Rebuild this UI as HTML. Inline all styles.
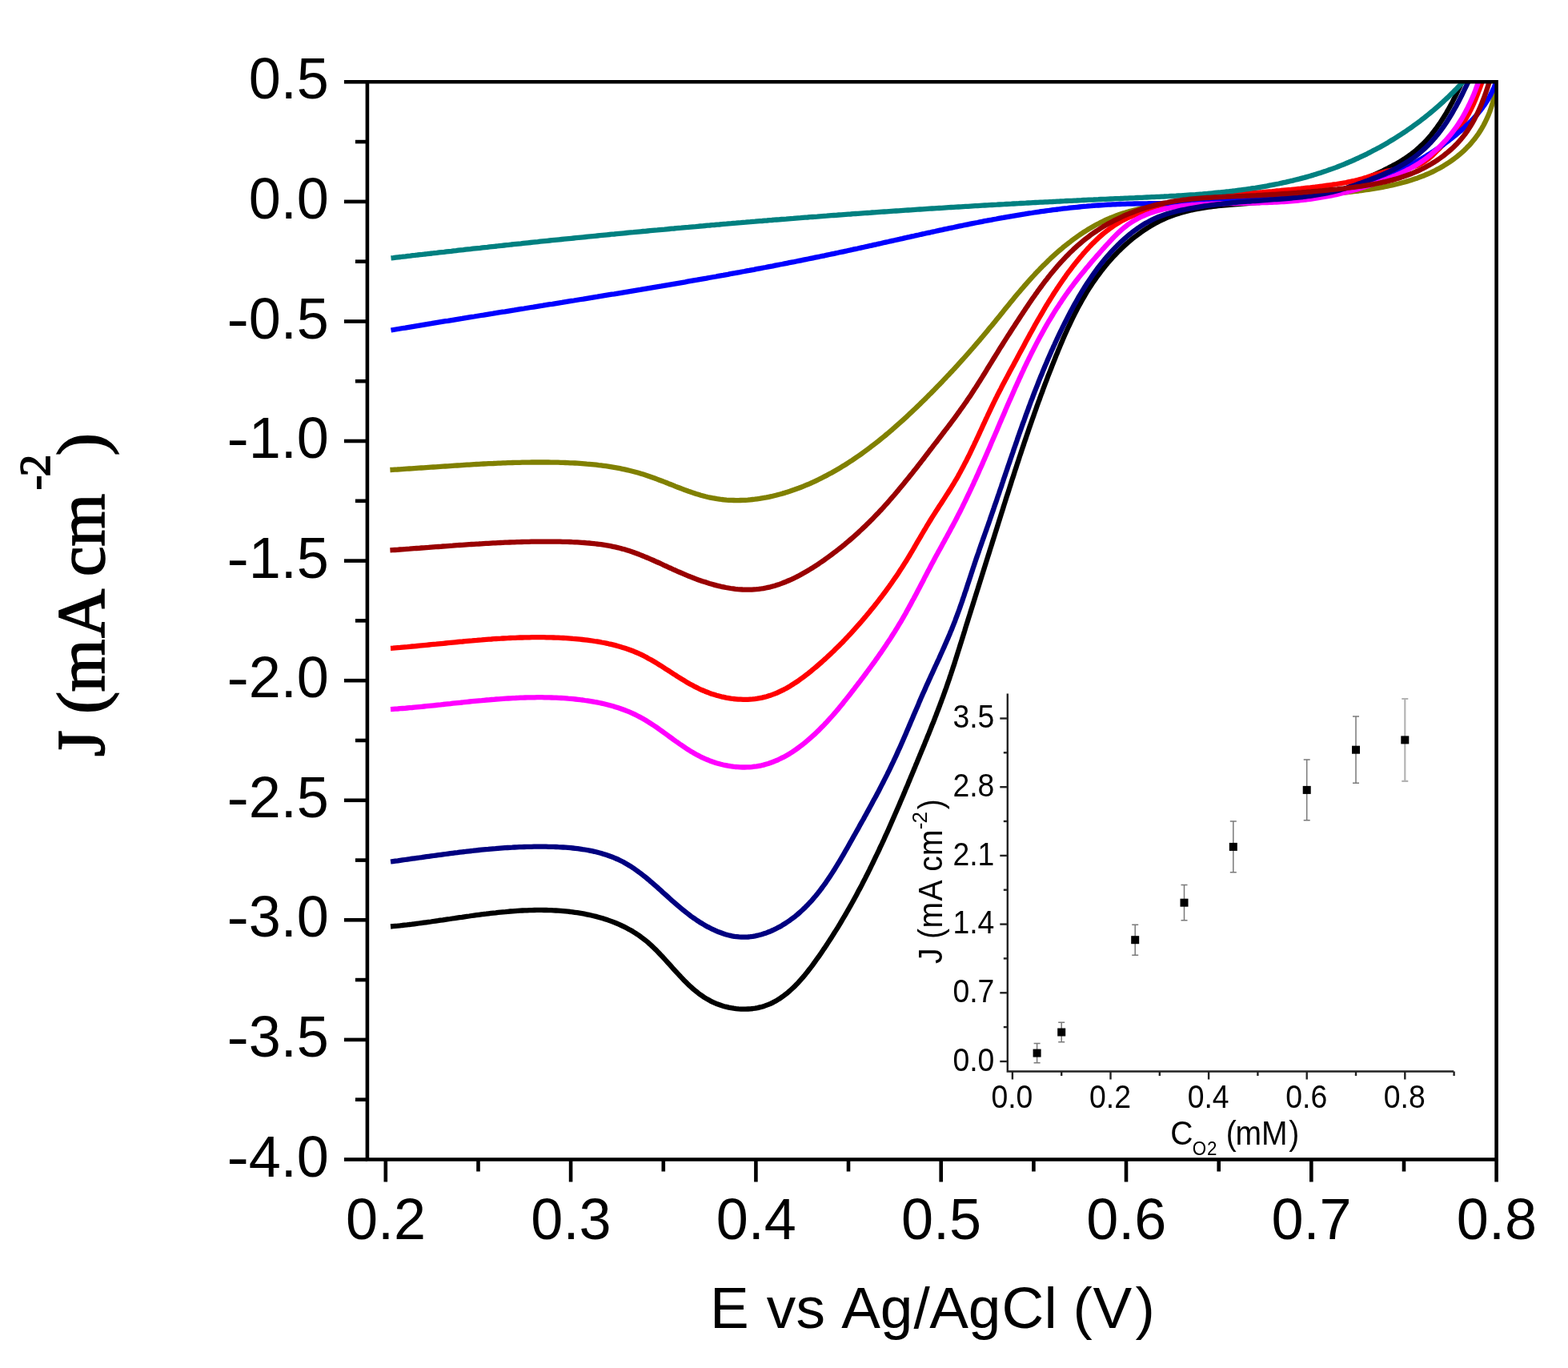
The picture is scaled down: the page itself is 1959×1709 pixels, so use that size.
<!DOCTYPE html><html><head><meta charset="utf-8"><title>LSV</title><style>
html,body{margin:0;padding:0;background:#fff;width:1959px;height:1709px;overflow:hidden}
svg{display:block}
.t{font-family:"Liberation Sans",Arial,sans-serif;fill:#000}
.s{font-family:"Liberation Serif","Times New Roman",serif;fill:#000;stroke:#000;stroke-width:1.6}
</style></head><body><div id="w">
<svg xmlns="http://www.w3.org/2000/svg" width="1959" height="1709" viewBox="0 0 1959 1709">
<rect width="1959" height="1709" fill="#fff"/>
<defs><clipPath id="pc"><rect x="458.9" y="102.3" width="1410.7" height="1346.2"/></clipPath></defs>
<g fill="none" stroke-width="6.3" stroke-linejoin="round" stroke-linecap="butt" clip-path="url(#pc)">
<path stroke="#000000" d="M488.0,1157.5 L490.9,1157.2 493.9,1156.9 496.8,1156.7 499.7,1156.4 502.7,1156.0 505.6,1155.7 508.5,1155.4 511.5,1155.0 514.5,1154.7 517.4,1154.3 520.4,1153.9 523.3,1153.5 526.3,1153.1 529.3,1152.7 532.3,1152.3 535.2,1151.9 538.2,1151.5 541.2,1151.0 544.2,1150.6 547.2,1150.2 550.2,1149.7 553.2,1149.3 556.2,1148.8 559.2,1148.4 562.2,1148.0 565.2,1147.5 568.2,1147.1 571.2,1146.6 574.2,1146.2 577.2,1145.8 580.2,1145.3 583.2,1144.9 586.2,1144.5 589.3,1144.0 592.3,1143.6 595.3,1143.2 598.3,1142.8 601.3,1142.4 604.3,1142.0 607.4,1141.7 610.4,1141.3 613.4,1140.9 616.4,1140.6 619.4,1140.3 622.5,1139.9 625.5,1139.6 628.5,1139.3 631.5,1139.1 634.5,1138.8 637.5,1138.5 640.6,1138.3 643.6,1138.1 646.6,1137.9 649.6,1137.7 652.6,1137.5 655.6,1137.4 658.6,1137.3 661.6,1137.1 664.6,1137.1 667.6,1137.0 670.6,1136.9 673.6,1136.9 676.6,1136.9 679.6,1137.0 682.6,1137.0 685.6,1137.1 688.6,1137.2 691.6,1137.3 694.5,1137.5 697.5,1137.7 700.5,1137.9 703.4,1138.1 706.4,1138.4 709.4,1138.7 712.3,1139.0 715.3,1139.4 718.2,1139.8 721.2,1140.2 724.1,1140.7 727.1,1141.2 730.0,1141.7 732.9,1142.3 735.8,1142.9 738.7,1143.5 741.6,1144.2 744.5,1144.9 747.4,1145.7 750.2,1146.5 753.1,1147.3 755.9,1148.2 758.7,1149.1 761.5,1150.1 764.3,1151.1 767.0,1152.2 769.8,1153.3 772.5,1154.4 775.2,1155.6 777.8,1156.9 780.5,1158.2 783.1,1159.5 785.7,1160.9 788.3,1162.3 790.8,1163.8 793.3,1165.4 795.8,1167.0 798.3,1168.7 800.7,1170.4 803.1,1172.2 805.4,1174.0 807.8,1175.9 810.1,1177.8 812.3,1179.8 814.5,1181.9 816.7,1184.0 818.9,1186.1 821.1,1188.3 823.2,1190.5 825.3,1192.7 827.5,1194.9 829.5,1197.2 831.6,1199.5 833.7,1201.8 835.8,1204.1 837.9,1206.4 839.9,1208.7 842.0,1211.1 844.1,1213.4 846.2,1215.7 848.3,1217.9 850.4,1220.2 852.5,1222.4 854.7,1224.7 856.8,1226.8 859.0,1229.0 861.2,1231.1 863.5,1233.1 865.7,1235.2 868.0,1237.1 870.4,1239.0 872.7,1240.9 875.1,1242.7 877.6,1244.4 880.1,1246.1 882.6,1247.6 885.2,1249.1 887.8,1250.6 890.5,1251.9 893.3,1253.1 896.1,1254.3 898.9,1255.3 901.8,1256.3 904.7,1257.2 907.7,1257.9 910.6,1258.6 913.6,1259.2 916.6,1259.7 919.7,1260.1 922.7,1260.4 925.7,1260.6 928.7,1260.7 931.7,1260.7 934.7,1260.5 937.7,1260.3 940.6,1260.0 943.5,1259.6 946.4,1259.1 949.2,1258.4 952.0,1257.7 954.7,1256.9 957.4,1255.9 960.1,1254.9 962.7,1253.8 965.2,1252.6 967.7,1251.3 970.2,1249.9 972.7,1248.4 975.1,1246.8 977.4,1245.2 979.7,1243.5 982.0,1241.7 984.3,1239.9 986.5,1238.0 988.7,1236.0 990.9,1234.0 993.0,1231.9 995.1,1229.8 997.2,1227.6 999.2,1225.4 1001.2,1223.2 1003.2,1220.9 1005.2,1218.5 1007.1,1216.1 1009.0,1213.7 1010.9,1211.3 1012.8,1208.9 1014.7,1206.4 1016.5,1203.9 1018.3,1201.4 1020.1,1198.8 1021.9,1196.3 1023.7,1193.8 1025.5,1191.2 1027.2,1188.7 1028.9,1186.1 1030.7,1183.6 1032.4,1181.0 1034.1,1178.4 1035.7,1175.9 1037.4,1173.3 1039.1,1170.7 1040.7,1168.1 1042.3,1165.5 1044.0,1162.9 1045.6,1160.4 1047.2,1157.8 1048.8,1155.2 1050.3,1152.6 1051.9,1149.9 1053.4,1147.3 1055.0,1144.7 1056.5,1142.1 1058.0,1139.5 1059.5,1136.9 1061.0,1134.2 1062.5,1131.6 1064.0,1129.0 1065.5,1126.3 1066.9,1123.7 1068.4,1121.0 1069.8,1118.4 1071.2,1115.7 1072.6,1113.1 1074.1,1110.4 1075.5,1107.8 1076.9,1105.1 1078.2,1102.4 1079.6,1099.8 1081.0,1097.1 1082.3,1094.4 1083.7,1091.8 1085.0,1089.1 1086.4,1086.4 1087.7,1083.7 1089.0,1081.0 1090.3,1078.3 1091.6,1075.6 1092.9,1072.9 1094.2,1070.2 1095.5,1067.5 1096.8,1064.8 1098.1,1062.1 1099.3,1059.4 1100.6,1056.7 1101.9,1054.0 1103.1,1051.3 1104.4,1048.6 1105.6,1045.8 1106.8,1043.1 1108.1,1040.4 1109.3,1037.7 1110.5,1034.9 1111.7,1032.2 1112.9,1029.5 1114.1,1026.7 1115.3,1024.0 1116.5,1021.2 1117.7,1018.5 1118.9,1015.8 1120.1,1013.0 1121.3,1010.3 1122.5,1007.5 1123.7,1004.8 1124.8,1002.0 1126.0,999.2 1127.2,996.5 1128.4,993.7 1129.5,991.0 1130.7,988.2 1131.8,985.4 1133.0,982.7 1134.2,979.9 1135.3,977.1 1136.5,974.4 1137.6,971.6 1138.8,968.8 1139.9,966.1 1141.1,963.3 1142.2,960.5 1143.4,957.7 1144.5,954.9 1145.7,952.2 1146.8,949.4 1148.0,946.6 1149.1,943.8 1150.3,941.0 1151.4,938.2 1152.6,935.4 1153.7,932.7 1154.9,929.9 1156.0,927.1 1157.2,924.3 1158.3,921.5 1159.4,918.7 1160.6,915.9 1161.7,913.1 1162.8,910.3 1163.9,907.5 1165.0,904.7 1166.2,901.9 1167.3,899.1 1168.4,896.2 1169.5,893.4 1170.5,890.6 1171.6,887.8 1172.7,885.0 1173.8,882.2 1174.8,879.3 1175.9,876.5 1176.9,873.7 1178.0,870.9 1179.0,868.0 1180.0,865.2 1181.0,862.4 1182.1,859.5 1183.0,856.7 1184.0,853.9 1185.0,851.0 1186.0,848.2 1186.9,845.3 1187.9,842.5 1188.8,839.6 1189.8,836.8 1190.7,833.9 1191.7,831.1 1192.6,828.2 1193.5,825.4 1194.4,822.5 1195.3,819.6 1196.2,816.8 1197.1,813.9 1198.0,811.1 1198.9,808.2 1199.8,805.3 1200.7,802.5 1201.6,799.6 1202.5,796.7 1203.4,793.9 1204.3,791.0 1205.2,788.1 1206.0,785.3 1206.9,782.4 1207.8,779.5 1208.7,776.7 1209.6,773.8 1210.5,770.9 1211.4,768.1 1212.3,765.2 1213.2,762.3 1214.1,759.5 1215.0,756.6 1215.9,753.7 1216.8,750.9 1217.7,748.0 1218.6,745.1 1219.5,742.3 1220.4,739.4 1221.3,736.6 1222.2,733.7 1223.1,730.8 1224.0,728.0 1224.9,725.1 1225.8,722.2 1226.7,719.4 1227.6,716.5 1228.5,713.6 1229.4,710.7 1230.3,707.9 1231.2,705.0 1232.1,702.1 1233.0,699.3 1233.9,696.4 1234.8,693.5 1235.7,690.7 1236.6,687.8 1237.5,684.9 1238.4,682.1 1239.3,679.2 1240.2,676.3 1241.1,673.5 1242.0,670.6 1242.9,667.7 1243.8,664.9 1244.7,662.0 1245.6,659.1 1246.5,656.2 1247.4,653.4 1248.3,650.5 1249.2,647.6 1250.1,644.8 1251.0,641.9 1251.9,639.0 1252.8,636.2 1253.7,633.3 1254.6,630.4 1255.5,627.6 1256.4,624.7 1257.3,621.8 1258.2,619.0 1259.2,616.1 1260.1,613.2 1261.0,610.4 1261.9,607.5 1262.8,604.7 1263.7,601.8 1264.6,598.9 1265.6,596.1 1266.5,593.2 1267.4,590.4 1268.3,587.5 1269.3,584.6 1270.2,581.8 1271.1,578.9 1272.1,576.1 1273.0,573.2 1273.9,570.4 1274.9,567.5 1275.8,564.7 1276.8,561.8 1277.7,559.0 1278.7,556.1 1279.6,553.3 1280.6,550.4 1281.6,547.6 1282.5,544.7 1283.5,541.9 1284.5,539.0 1285.4,536.2 1286.4,533.4 1287.4,530.5 1288.4,527.7 1289.4,524.8 1290.4,522.0 1291.4,519.2 1292.4,516.3 1293.4,513.5 1294.4,510.7 1295.4,507.8 1296.4,505.0 1297.4,502.2 1298.5,499.4 1299.5,496.5 1300.5,493.7 1301.6,490.9 1302.6,488.1 1303.6,485.3 1304.7,482.4 1305.7,479.6 1306.8,476.8 1307.9,474.0 1308.9,471.2 1310.0,468.4 1311.1,465.6 1312.2,462.8 1313.3,460.0 1314.4,457.2 1315.5,454.4 1316.6,451.6 1317.7,448.8 1318.8,446.0 1319.9,443.2 1321.1,440.4 1322.2,437.6 1323.4,434.8 1324.5,432.1 1325.7,429.3 1326.9,426.5 1328.0,423.8 1329.2,421.0 1330.4,418.3 1331.7,415.5 1332.9,412.8 1334.1,410.0 1335.4,407.3 1336.7,404.6 1338.0,401.9 1339.3,399.2 1340.6,396.5 1341.9,393.8 1343.3,391.1 1344.6,388.5 1346.0,385.8 1347.4,383.1 1348.9,380.5 1350.3,377.9 1351.8,375.3 1353.3,372.7 1354.8,370.1 1356.3,367.5 1357.8,364.9 1359.4,362.4 1361.0,359.9 1362.7,357.3 1364.3,354.8 1366.0,352.3 1367.7,349.9 1369.4,347.4 1371.2,344.9 1373.0,342.5 1374.8,340.1 1376.6,337.7 1378.5,335.3 1380.4,333.0 1382.3,330.6 1384.3,328.3 1386.3,326.0 1388.3,323.7 1390.3,321.5 1392.4,319.2 1394.5,317.0 1396.6,314.8 1398.8,312.7 1401.0,310.5 1403.2,308.4 1405.4,306.4 1407.7,304.3 1410.0,302.3 1412.3,300.4 1414.6,298.4 1417.0,296.5 1419.4,294.7 1421.8,292.9 1424.3,291.1 1426.7,289.3 1429.2,287.6 1431.7,286.0 1434.3,284.4 1436.8,282.8 1439.4,281.3 1442.0,279.8 1444.6,278.3 1447.3,277.0 1449.9,275.6 1452.6,274.4 1455.3,273.1 1458.0,271.9 1460.8,270.8 1463.5,269.8 1466.3,268.7 1469.1,267.8 1471.9,266.9 1474.8,266.0 1477.6,265.2 1480.5,264.4 1483.4,263.7 1486.3,263.0 1489.2,262.3 1492.1,261.7 1495.0,261.1 1498.0,260.6 1500.9,260.1 1503.9,259.6 1506.9,259.1 1509.8,258.7 1512.8,258.3 1515.8,257.9 1518.8,257.6 1521.8,257.2 1524.8,256.9 1527.8,256.6 1530.9,256.3 1533.9,256.0 1536.9,255.8 1539.9,255.5 1543.0,255.3 1546.0,255.0 1549.0,254.8 1552.0,254.6 1555.0,254.4 1558.1,254.1 1561.1,253.9 1564.1,253.7 1567.1,253.4 1570.1,253.2 1573.1,253.0 1576.1,252.7 1579.1,252.5 1582.0,252.2 1585.0,252.0 1588.0,251.7 1591.0,251.4 1594.0,251.2 1597.0,250.9 1599.9,250.6 1602.9,250.3 1605.9,250.0 1608.9,249.7 1611.9,249.4 1614.8,249.1 1617.8,248.8 1620.8,248.4 1623.8,248.1 1626.7,247.8 1629.7,247.4 1632.7,247.1 1635.7,246.7 1638.7,246.3 1641.7,245.9 1644.7,245.5 1647.7,245.1 1650.6,244.7 1653.6,244.2 1656.6,243.6 1659.5,243.0 1662.4,242.4 1665.3,241.6 1668.2,240.8 1671.0,239.9 1673.8,238.9 1676.6,237.8 1679.4,236.6 1682.1,235.3 1684.8,234.1 1687.5,232.7 1690.2,231.4 1692.9,230.0 1695.6,228.6 1698.3,227.3 1701.0,225.9 1703.7,224.6 1706.4,223.3 1709.1,222.0 1711.9,220.7 1714.6,219.4 1717.4,218.1 1720.1,216.8 1722.8,215.6 1725.6,214.3 1728.3,213.0 1731.0,211.6 1733.7,210.3 1736.4,208.9 1739.0,207.6 1741.7,206.1 1744.3,204.7 1746.9,203.2 1749.5,201.7 1752.0,200.1 1754.5,198.5 1757.0,196.8 1759.5,195.1 1761.9,193.4 1764.3,191.6 1766.7,189.8 1769.0,187.9 1771.2,185.9 1773.5,183.9 1775.6,181.9 1777.8,179.8 1779.9,177.7 1781.9,175.5 1783.9,173.3 1785.9,171.0 1787.9,168.7 1789.8,166.3 1791.6,164.0 1793.5,161.5 1795.3,159.1 1797.0,156.6 1798.8,154.1 1800.4,151.6 1802.1,149.0 1803.7,146.5 1805.3,143.9 1806.9,141.3 1808.4,138.6 1809.9,136.0 1811.4,133.3 1812.8,130.6 1814.3,128.0 1815.6,125.3 1817.0,122.6 1818.4,119.9 1819.7,117.2 1821.0,114.5 1822.2,111.8 1823.5,109.1 1824.7,106.4 1825.9,103.7 1827.0,101.0"/>
<path stroke="#808000" d="M487.4,587.0 L490.4,586.8 493.4,586.6 496.4,586.5 499.3,586.3 502.3,586.1 505.3,585.9 508.3,585.7 511.3,585.5 514.3,585.3 517.3,585.1 520.3,584.9 523.3,584.7 526.3,584.5 529.3,584.3 532.3,584.1 535.3,583.9 538.3,583.7 541.3,583.5 544.3,583.3 547.3,583.1 550.3,582.9 553.3,582.7 556.3,582.5 559.3,582.3 562.3,582.1 565.3,581.9 568.3,581.7 571.3,581.5 574.3,581.3 577.3,581.1 580.3,580.9 583.3,580.7 586.3,580.6 589.3,580.4 592.3,580.2 595.3,580.0 598.3,579.9 601.3,579.7 604.3,579.5 607.3,579.4 610.3,579.2 613.3,579.1 616.3,579.0 619.3,578.8 622.3,578.7 625.3,578.6 628.4,578.4 631.4,578.3 634.4,578.2 637.4,578.1 640.4,578.0 643.4,577.9 646.4,577.9 649.4,577.8 652.4,577.7 655.4,577.7 658.4,577.6 661.4,577.6 664.4,577.5 667.4,577.5 670.4,577.5 673.4,577.5 676.4,577.5 679.4,577.5 682.4,577.5 685.3,577.5 688.3,577.6 691.3,577.6 694.3,577.7 697.3,577.7 700.3,577.8 703.3,577.9 706.3,578.0 709.3,578.1 712.3,578.3 715.2,578.4 718.2,578.5 721.2,578.7 724.2,578.9 727.2,579.1 730.1,579.3 733.1,579.6 736.1,579.8 739.0,580.1 742.0,580.4 745.0,580.7 747.9,581.1 750.9,581.4 753.9,581.8 756.8,582.2 759.8,582.6 762.7,583.1 765.7,583.6 768.6,584.1 771.5,584.6 774.5,585.2 777.4,585.8 780.3,586.4 783.3,587.1 786.2,587.8 789.1,588.5 792.0,589.2 794.9,590.0 797.8,590.8 800.8,591.7 803.7,592.6 806.5,593.5 809.4,594.5 812.3,595.5 815.2,596.5 818.1,597.5 821.0,598.6 823.8,599.7 826.7,600.8 829.6,601.9 832.5,603.0 835.3,604.2 838.2,605.3 841.1,606.4 843.9,607.6 846.8,608.7 849.7,609.8 852.5,610.9 855.4,612.0 858.3,613.0 861.1,614.1 864.0,615.1 866.9,616.0 869.8,617.0 872.7,617.8 875.6,618.7 878.5,619.5 881.4,620.3 884.3,621.0 887.2,621.6 890.1,622.2 893.0,622.7 895.9,623.2 898.9,623.6 901.8,624.0 904.7,624.3 907.7,624.6 910.6,624.8 913.5,624.9 916.5,625.0 919.4,625.1 922.4,625.1 925.3,625.0 928.3,624.9 931.2,624.8 934.2,624.6 937.1,624.3 940.1,624.0 943.0,623.7 945.9,623.3 948.9,622.9 951.8,622.4 954.7,621.9 957.7,621.4 960.6,620.8 963.5,620.2 966.4,619.5 969.3,618.8 972.2,618.0 975.1,617.3 978.0,616.4 980.9,615.6 983.7,614.7 986.6,613.8 989.4,612.8 992.3,611.8 995.1,610.8 997.9,609.8 1000.7,608.7 1003.5,607.6 1006.3,606.4 1009.1,605.3 1011.9,604.1 1014.6,602.8 1017.4,601.6 1020.1,600.3 1022.8,599.0 1025.5,597.7 1028.2,596.3 1030.9,594.9 1033.5,593.6 1036.2,592.1 1038.8,590.7 1041.4,589.2 1044.0,587.7 1046.6,586.2 1049.2,584.7 1051.8,583.1 1054.4,581.6 1056.9,580.0 1059.4,578.4 1062.0,576.7 1064.5,575.1 1067.0,573.4 1069.5,571.7 1071.9,570.0 1074.4,568.3 1076.8,566.6 1079.3,564.8 1081.7,563.0 1084.1,561.3 1086.5,559.4 1088.9,557.6 1091.3,555.8 1093.7,553.9 1096.1,552.1 1098.4,550.2 1100.8,548.3 1103.1,546.4 1105.5,544.5 1107.8,542.5 1110.1,540.6 1112.4,538.6 1114.7,536.7 1117.0,534.7 1119.2,532.7 1121.5,530.7 1123.8,528.7 1126.0,526.7 1128.3,524.6 1130.5,522.6 1132.7,520.6 1134.9,518.5 1137.1,516.4 1139.3,514.4 1141.5,512.3 1143.7,510.2 1145.9,508.1 1148.1,506.0 1150.2,503.9 1152.4,501.8 1154.5,499.7 1156.7,497.6 1158.8,495.4 1160.9,493.3 1163.1,491.2 1165.2,489.0 1167.3,486.9 1169.4,484.7 1171.5,482.6 1173.6,480.4 1175.7,478.3 1177.7,476.1 1179.8,473.9 1181.9,471.7 1183.9,469.5 1186.0,467.4 1188.0,465.2 1190.1,463.0 1192.1,460.8 1194.1,458.6 1196.2,456.3 1198.2,454.1 1200.2,451.9 1202.2,449.7 1204.2,447.5 1206.2,445.2 1208.2,443.0 1210.2,440.7 1212.1,438.5 1214.1,436.2 1216.1,434.0 1218.0,431.7 1220.0,429.4 1221.9,427.2 1223.9,424.9 1225.8,422.6 1227.8,420.3 1229.7,418.0 1231.6,415.7 1233.5,413.4 1235.4,411.1 1237.3,408.8 1239.3,406.5 1241.1,404.2 1243.0,401.9 1244.9,399.5 1246.8,397.2 1248.7,394.9 1250.6,392.5 1252.5,390.2 1254.3,387.9 1256.2,385.5 1258.1,383.2 1260.0,380.9 1261.9,378.6 1263.8,376.2 1265.7,373.9 1267.6,371.6 1269.5,369.3 1271.4,367.0 1273.4,364.7 1275.3,362.4 1277.3,360.2 1279.2,357.9 1281.2,355.6 1283.2,353.4 1285.2,351.2 1287.2,348.9 1289.2,346.7 1291.2,344.5 1293.2,342.3 1295.3,340.1 1297.4,338.0 1299.4,335.8 1301.5,333.7 1303.6,331.6 1305.8,329.5 1307.9,327.4 1310.0,325.3 1312.2,323.2 1314.4,321.2 1316.6,319.2 1318.8,317.2 1321.1,315.2 1323.3,313.2 1325.6,311.3 1327.9,309.3 1330.2,307.4 1332.6,305.6 1334.9,303.7 1337.3,301.9 1339.7,300.0 1342.1,298.3 1344.6,296.5 1347.0,294.8 1349.5,293.0 1352.0,291.4 1354.5,289.7 1357.1,288.1 1359.6,286.5 1362.2,285.0 1364.8,283.5 1367.4,282.0 1370.0,280.6 1372.7,279.2 1375.3,277.8 1378.0,276.5 1380.7,275.2 1383.4,274.0 1386.1,272.8 1388.9,271.7 1391.6,270.6 1394.4,269.5 1397.1,268.5 1399.9,267.5 1402.7,266.6 1405.6,265.7 1408.4,264.9 1411.2,264.0 1414.1,263.3 1416.9,262.5 1419.8,261.8 1422.6,261.1 1425.5,260.4 1428.4,259.8 1431.3,259.2 1434.2,258.6 1437.1,258.0 1440.1,257.5 1443.0,257.0 1445.9,256.5 1448.9,256.0 1451.8,255.6 1454.7,255.1 1457.7,254.7 1460.6,254.3 1463.6,253.9 1466.6,253.6 1469.5,253.2 1472.5,252.9 1475.5,252.6 1478.5,252.3 1481.5,252.0 1484.5,251.7 1487.4,251.5 1490.4,251.2 1493.4,251.0 1496.4,250.8 1499.4,250.6 1502.4,250.4 1505.5,250.2 1508.5,250.0 1511.5,249.8 1514.5,249.7 1517.5,249.5 1520.5,249.4 1523.5,249.2 1526.5,249.1 1529.6,249.0 1532.6,248.8 1535.6,248.7 1538.6,248.6 1541.6,248.5 1544.6,248.4 1547.7,248.3 1550.7,248.2 1553.7,248.1 1556.7,248.0 1559.7,247.9 1562.7,247.8 1565.7,247.7 1568.7,247.5 1571.8,247.4 1574.8,247.3 1577.8,247.2 1580.8,247.1 1583.8,247.0 1586.8,246.9 1589.8,246.7 1592.8,246.6 1595.8,246.5 1598.8,246.4 1601.8,246.2 1604.8,246.1 1607.7,246.0 1610.7,245.8 1613.7,245.7 1616.7,245.5 1619.7,245.3 1622.7,245.2 1625.7,245.0 1628.7,244.8 1631.7,244.6 1634.7,244.4 1637.7,244.2 1640.7,244.0 1643.6,243.8 1646.6,243.6 1649.6,243.4 1652.6,243.1 1655.6,242.9 1658.6,242.6 1661.6,242.4 1664.6,242.1 1667.6,241.8 1670.5,241.5 1673.5,241.2 1676.5,240.9 1679.5,240.6 1682.5,240.3 1685.5,239.9 1688.5,239.6 1691.5,239.2 1694.5,238.8 1697.5,238.5 1700.5,238.1 1703.5,237.6 1706.5,237.2 1709.4,236.8 1712.4,236.3 1715.4,235.9 1718.4,235.4 1721.4,234.9 1724.4,234.3 1727.4,233.8 1730.3,233.2 1733.3,232.6 1736.3,232.0 1739.2,231.4 1742.1,230.7 1745.1,230.0 1748.0,229.3 1750.9,228.5 1753.8,227.8 1756.7,226.9 1759.6,226.1 1762.5,225.2 1765.3,224.3 1768.2,223.3 1771.0,222.4 1773.8,221.3 1776.6,220.3 1779.4,219.2 1782.1,218.0 1784.9,216.8 1787.6,215.6 1790.3,214.3 1793.0,213.0 1795.6,211.6 1798.3,210.2 1800.9,208.7 1803.5,207.2 1806.0,205.6 1808.6,204.0 1811.1,202.3 1813.6,200.6 1816.0,198.9 1818.4,197.1 1820.8,195.2 1823.1,193.3 1825.4,191.3 1827.7,189.3 1829.9,187.3 1832.0,185.2 1834.1,183.0 1836.2,180.9 1838.2,178.6 1840.1,176.3 1842.0,174.0 1843.8,171.6 1845.6,169.2 1847.3,166.7 1848.9,164.2 1850.5,161.7 1852.0,159.1 1853.5,156.5 1854.9,153.8 1856.2,151.1 1857.5,148.4 1858.7,145.7 1859.9,142.9 1861.0,140.1 1862.0,137.2 1863.0,134.4 1863.9,131.5 1864.8,128.6 1865.6,125.7 1866.4,122.8 1867.1,119.8 1867.8,116.9 1868.4,113.9 1868.9,110.9 1869.4,108.0"/>
<path stroke="#ff0000" d="M488.0,809.8 L491.0,809.6 494.0,809.3 497.0,809.1 500.0,808.9 503.0,808.6 506.0,808.3 509.0,808.1 512.0,807.8 515.0,807.5 518.0,807.3 521.0,807.0 524.0,806.7 527.0,806.4 530.0,806.1 532.9,805.8 535.9,805.5 538.9,805.2 541.9,804.9 544.9,804.7 547.9,804.4 550.9,804.1 553.9,803.8 556.9,803.5 559.9,803.2 562.9,802.9 565.8,802.6 568.8,802.3 571.8,802.0 574.8,801.7 577.8,801.5 580.8,801.2 583.8,800.9 586.8,800.6 589.8,800.4 592.8,800.1 595.7,799.9 598.7,799.6 601.7,799.4 604.7,799.1 607.7,798.9 610.7,798.7 613.7,798.5 616.7,798.2 619.7,798.0 622.7,797.8 625.7,797.7 628.6,797.5 631.6,797.3 634.6,797.2 637.6,797.0 640.6,796.9 643.6,796.8 646.6,796.6 649.6,796.5 652.6,796.5 655.6,796.4 658.6,796.3 661.6,796.3 664.6,796.2 667.6,796.2 670.6,796.2 673.6,796.2 676.6,796.2 679.6,796.2 682.6,796.3 685.6,796.3 688.6,796.4 691.6,796.5 694.6,796.6 697.6,796.7 700.6,796.9 703.6,797.0 706.6,797.2 709.7,797.4 712.7,797.6 715.7,797.9 718.7,798.1 721.7,798.4 724.7,798.7 727.7,799.0 730.7,799.3 733.8,799.7 736.8,800.1 739.8,800.5 742.8,801.0 745.8,801.4 748.7,801.9 751.7,802.5 754.7,803.0 757.6,803.6 760.6,804.3 763.5,804.9 766.5,805.6 769.4,806.4 772.3,807.2 775.1,808.0 778.0,808.9 780.9,809.8 783.7,810.7 786.5,811.7 789.3,812.8 792.0,813.8 794.8,815.0 797.5,816.2 800.2,817.4 802.9,818.7 805.5,820.0 808.2,821.4 810.8,822.9 813.4,824.3 815.9,825.8 818.5,827.3 821.1,828.9 823.6,830.5 826.2,832.0 828.7,833.7 831.2,835.3 833.7,836.9 836.3,838.5 838.8,840.2 841.3,841.8 843.9,843.4 846.4,845.1 848.9,846.7 851.5,848.3 854.1,849.8 856.7,851.4 859.3,852.9 861.9,854.4 864.5,855.8 867.2,857.3 869.9,858.6 872.6,860.0 875.3,861.3 878.1,862.5 880.9,863.7 883.7,864.8 886.6,865.9 889.5,866.9 892.4,867.8 895.3,868.7 898.3,869.5 901.2,870.3 904.2,870.9 907.2,871.6 910.2,872.1 913.2,872.6 916.2,873.0 919.3,873.3 922.3,873.6 925.3,873.7 928.3,873.8 931.3,873.8 934.3,873.8 937.3,873.6 940.3,873.4 943.2,873.1 946.2,872.7 949.1,872.2 952.0,871.6 954.9,870.9 957.7,870.2 960.5,869.3 963.3,868.4 966.1,867.4 968.8,866.3 971.6,865.2 974.3,863.9 976.9,862.6 979.6,861.3 982.2,859.9 984.8,858.4 987.4,856.9 990.0,855.3 992.5,853.7 995.1,852.0 997.6,850.3 1000.0,848.5 1002.5,846.7 1004.9,844.9 1007.4,843.0 1009.8,841.2 1012.2,839.3 1014.5,837.3 1016.9,835.4 1019.2,833.5 1021.5,831.5 1023.8,829.5 1026.1,827.5 1028.3,825.5 1030.6,823.5 1032.8,821.5 1035.0,819.4 1037.2,817.4 1039.4,815.3 1041.6,813.2 1043.7,811.1 1045.8,809.0 1048.0,806.9 1050.1,804.8 1052.2,802.7 1054.3,800.5 1056.3,798.3 1058.4,796.2 1060.4,794.0 1062.5,791.8 1064.5,789.6 1066.5,787.4 1068.5,785.2 1070.5,782.9 1072.5,780.7 1074.5,778.4 1076.4,776.2 1078.4,773.9 1080.3,771.6 1082.3,769.3 1084.2,767.0 1086.1,764.7 1088.0,762.3 1089.9,760.0 1091.8,757.7 1093.7,755.3 1095.6,752.9 1097.4,750.6 1099.2,748.2 1101.1,745.8 1102.9,743.4 1104.7,741.0 1106.5,738.6 1108.3,736.1 1110.1,733.7 1111.8,731.2 1113.6,728.8 1115.3,726.3 1117.0,723.8 1118.7,721.4 1120.4,718.9 1122.1,716.4 1123.8,713.8 1125.4,711.3 1127.1,708.8 1128.7,706.3 1130.3,703.7 1131.9,701.2 1133.5,698.6 1135.0,696.1 1136.6,693.5 1138.1,690.9 1139.7,688.3 1141.2,685.7 1142.7,683.1 1144.2,680.5 1145.7,677.9 1147.2,675.3 1148.8,672.7 1150.3,670.1 1151.8,667.5 1153.3,665.0 1154.8,662.4 1156.4,659.8 1157.9,657.2 1159.5,654.6 1161.0,652.1 1162.6,649.5 1164.2,646.9 1165.8,644.4 1167.4,641.9 1169.0,639.3 1170.7,636.8 1172.3,634.3 1173.9,631.7 1175.6,629.2 1177.2,626.7 1178.9,624.1 1180.5,621.6 1182.1,619.1 1183.8,616.6 1185.4,614.0 1187.0,611.5 1188.6,608.9 1190.1,606.4 1191.7,603.8 1193.2,601.2 1194.8,598.6 1196.3,596.0 1197.7,593.4 1199.2,590.8 1200.6,588.1 1202.0,585.5 1203.5,582.8 1204.8,580.2 1206.2,577.5 1207.6,574.9 1208.9,572.2 1210.3,569.5 1211.6,566.8 1212.9,564.1 1214.2,561.4 1215.5,558.7 1216.8,556.0 1218.1,553.2 1219.4,550.5 1220.6,547.8 1221.9,545.1 1223.2,542.3 1224.4,539.6 1225.7,536.9 1226.9,534.2 1228.2,531.4 1229.5,528.7 1230.7,526.0 1232.0,523.2 1233.3,520.5 1234.5,517.8 1235.8,515.1 1237.1,512.3 1238.4,509.6 1239.7,506.9 1241.0,504.2 1242.3,501.5 1243.6,498.8 1245.0,496.1 1246.3,493.4 1247.7,490.7 1249.1,488.0 1250.5,485.4 1251.8,482.7 1253.2,480.0 1254.6,477.4 1256.0,474.7 1257.5,472.1 1258.9,469.4 1260.3,466.7 1261.7,464.1 1263.1,461.5 1264.6,458.8 1266.0,456.2 1267.4,453.5 1268.8,450.9 1270.3,448.2 1271.7,445.6 1273.1,442.9 1274.5,440.3 1275.9,437.7 1277.4,435.0 1278.8,432.4 1280.2,429.7 1281.6,427.1 1283.0,424.5 1284.5,421.9 1285.9,419.2 1287.3,416.6 1288.8,414.0 1290.2,411.4 1291.7,408.7 1293.1,406.1 1294.6,403.5 1296.1,400.9 1297.6,398.3 1299.1,395.7 1300.6,393.1 1302.1,390.6 1303.6,388.0 1305.1,385.4 1306.6,382.8 1308.2,380.3 1309.7,377.7 1311.3,375.2 1312.9,372.6 1314.5,370.1 1316.1,367.5 1317.7,365.0 1319.4,362.5 1321.0,360.0 1322.7,357.5 1324.4,355.0 1326.1,352.5 1327.8,350.0 1329.5,347.6 1331.3,345.1 1333.0,342.6 1334.8,340.2 1336.6,337.8 1338.5,335.3 1340.3,332.9 1342.2,330.5 1344.1,328.1 1346.0,325.7 1348.0,323.4 1349.9,321.0 1351.9,318.7 1353.9,316.3 1356.0,314.0 1358.0,311.7 1360.1,309.5 1362.2,307.2 1364.3,305.0 1366.5,302.9 1368.7,300.7 1370.9,298.6 1373.1,296.5 1375.4,294.5 1377.7,292.5 1380.0,290.6 1382.4,288.7 1384.8,286.9 1387.2,285.1 1389.6,283.4 1392.1,281.7 1394.6,280.1 1397.1,278.5 1399.6,277.0 1402.2,275.6 1404.9,274.2 1407.5,272.9 1410.2,271.7 1412.9,270.5 1415.6,269.4 1418.3,268.3 1421.1,267.3 1423.9,266.3 1426.7,265.4 1429.5,264.4 1432.4,263.6 1435.2,262.7 1438.1,261.9 1440.9,261.1 1443.8,260.3 1446.7,259.6 1449.5,258.8 1452.4,258.1 1455.3,257.4 1458.2,256.7 1461.2,256.1 1464.1,255.4 1467.0,254.8 1469.9,254.2 1472.9,253.6 1475.8,253.0 1478.7,252.5 1481.7,251.9 1484.6,251.4 1487.6,250.9 1490.5,250.4 1493.5,249.9 1496.5,249.4 1499.4,249.0 1502.4,248.5 1505.4,248.1 1508.4,247.7 1511.4,247.2 1514.4,246.8 1517.3,246.4 1520.3,246.1 1523.3,245.7 1526.3,245.3 1529.3,245.0 1532.3,244.6 1535.3,244.3 1538.3,244.0 1541.3,243.6 1544.3,243.3 1547.3,243.0 1550.3,242.7 1553.3,242.4 1556.3,242.1 1559.3,241.8 1562.3,241.5 1565.3,241.2 1568.3,241.0 1571.3,240.7 1574.3,240.4 1577.3,240.2 1580.3,239.9 1583.3,239.6 1586.3,239.3 1589.3,239.1 1592.3,238.8 1595.2,238.5 1598.2,238.3 1601.2,238.0 1604.2,237.7 1607.2,237.4 1610.2,237.1 1613.2,236.9 1616.2,236.6 1619.1,236.3 1622.1,236.0 1625.1,235.7 1628.1,235.3 1631.1,235.0 1634.1,234.7 1637.0,234.4 1640.0,234.0 1643.0,233.7 1646.0,233.3 1649.0,232.9 1651.9,232.5 1654.9,232.1 1657.9,231.7 1660.9,231.3 1663.9,230.9 1666.8,230.4 1669.8,230.0 1672.8,229.5 1675.7,229.0 1678.7,228.5 1681.7,228.0 1684.6,227.4 1687.6,226.8 1690.5,226.2 1693.5,225.5 1696.4,224.8 1699.3,224.0 1702.2,223.2 1705.1,222.3 1707.9,221.5 1710.8,220.5 1713.7,219.6 1716.5,218.7 1719.4,217.8 1722.3,216.9 1725.2,216.0 1728.0,215.2 1731.0,214.4 1733.9,213.6 1736.8,213.0 1739.8,212.4 1742.8,211.9 1745.8,211.4 1748.8,211.0 1751.9,210.6 1754.9,210.2 1757.9,209.8 1760.8,209.3 1763.7,208.7 1766.6,208.0 1769.4,207.2 1772.1,206.2 1774.7,205.0 1777.3,203.6 1779.7,202.0 1782.1,200.3 1784.5,198.5 1786.8,196.6 1789.1,194.6 1791.3,192.5 1793.5,190.3 1795.7,188.1 1797.9,185.9 1800.0,183.8 1802.2,181.6 1804.4,179.5 1806.6,177.4 1808.8,175.3 1810.9,173.3 1813.1,171.2 1815.2,169.1 1817.3,167.0 1819.3,164.8 1821.2,162.6 1823.1,160.3 1824.9,157.9 1826.7,155.5 1828.4,153.0 1830.0,150.5 1831.6,148.0 1833.1,145.3 1834.6,142.7 1836.0,140.0 1837.4,137.3 1838.7,134.6 1840.0,131.8 1841.3,129.1 1842.5,126.3 1843.7,123.5 1844.8,120.7 1845.9,117.9 1847.0,115.0 1848.1,112.2 1849.1,109.4 1850.1,106.6 1851.1,103.8 1852.0,101.0"/>
<path stroke="#0000ff" d="M488.5,412.5 L491.5,412.0 494.4,411.5 497.4,411.0 500.3,410.5 503.3,410.0 506.3,409.6 509.2,409.1 512.2,408.6 515.2,408.1 518.1,407.6 521.1,407.1 524.1,406.6 527.0,406.1 530.0,405.6 533.0,405.1 535.9,404.6 538.9,404.2 541.8,403.7 544.8,403.2 547.8,402.7 550.7,402.2 553.7,401.7 556.7,401.2 559.6,400.8 562.6,400.3 565.6,399.8 568.5,399.3 571.5,398.8 574.5,398.3 577.4,397.9 580.4,397.4 583.4,396.9 586.3,396.4 589.3,395.9 592.3,395.5 595.2,395.0 598.2,394.5 601.2,394.0 604.1,393.6 607.1,393.1 610.1,392.6 613.0,392.1 616.0,391.7 619.0,391.2 621.9,390.7 624.9,390.2 627.9,389.7 630.8,389.3 633.8,388.8 636.8,388.3 639.7,387.8 642.7,387.4 645.7,386.9 648.6,386.4 651.6,385.9 654.6,385.5 657.5,385.0 660.5,384.5 663.5,384.0 666.4,383.6 669.4,383.1 672.4,382.6 675.3,382.1 678.3,381.7 681.3,381.2 684.2,380.7 687.2,380.2 690.2,379.8 693.1,379.3 696.1,378.8 699.1,378.3 702.0,377.9 705.0,377.4 708.0,376.9 710.9,376.4 713.9,375.9 716.9,375.5 719.8,375.0 722.8,374.5 725.8,374.0 728.7,373.6 731.7,373.1 734.7,372.6 737.6,372.1 740.6,371.6 743.6,371.1 746.5,370.7 749.5,370.2 752.5,369.7 755.4,369.2 758.4,368.7 761.3,368.2 764.3,367.7 767.3,367.3 770.2,366.8 773.2,366.3 776.2,365.8 779.1,365.3 782.1,364.8 785.1,364.3 788.0,363.8 791.0,363.3 793.9,362.8 796.9,362.3 799.9,361.9 802.8,361.4 805.8,360.9 808.8,360.4 811.7,359.9 814.7,359.4 817.6,358.9 820.6,358.4 823.6,357.9 826.5,357.4 829.5,356.8 832.5,356.3 835.4,355.8 838.4,355.3 841.3,354.8 844.3,354.3 847.3,353.8 850.2,353.3 853.2,352.8 856.1,352.3 859.1,351.7 862.1,351.2 865.0,350.7 868.0,350.2 870.9,349.7 873.9,349.1 876.8,348.6 879.8,348.1 882.8,347.6 885.7,347.0 888.7,346.5 891.6,346.0 894.6,345.5 897.5,344.9 900.5,344.4 903.5,343.9 906.4,343.3 909.4,342.8 912.3,342.2 915.3,341.7 918.2,341.2 921.2,340.6 924.1,340.1 927.1,339.5 930.0,339.0 933.0,338.4 936.0,337.9 938.9,337.3 941.9,336.8 944.8,336.2 947.8,335.6 950.7,335.1 953.7,334.5 956.6,334.0 959.6,333.4 962.5,332.8 965.5,332.3 968.4,331.7 971.4,331.1 974.3,330.5 977.3,330.0 980.2,329.4 983.2,328.8 986.1,328.2 989.1,327.6 992.0,327.1 995.0,326.5 997.9,325.9 1000.8,325.3 1003.8,324.7 1006.7,324.1 1009.7,323.5 1012.6,322.9 1015.6,322.3 1018.5,321.7 1021.5,321.1 1024.4,320.5 1027.3,319.9 1030.3,319.3 1033.2,318.6 1036.2,318.0 1039.1,317.4 1042.1,316.8 1045.0,316.2 1047.9,315.5 1050.9,314.9 1053.8,314.3 1056.8,313.7 1059.7,313.0 1062.6,312.4 1065.6,311.7 1068.5,311.1 1071.4,310.5 1074.4,309.8 1077.3,309.2 1080.3,308.5 1083.2,307.9 1086.1,307.2 1089.1,306.6 1092.0,305.9 1094.9,305.3 1097.9,304.6 1100.8,304.0 1103.7,303.3 1106.7,302.6 1109.6,302.0 1112.5,301.3 1115.5,300.7 1118.4,300.0 1121.3,299.4 1124.3,298.7 1127.2,298.1 1130.1,297.4 1133.1,296.7 1136.0,296.1 1139.0,295.4 1141.9,294.8 1144.8,294.1 1147.8,293.5 1150.7,292.8 1153.6,292.2 1156.6,291.5 1159.5,290.9 1162.4,290.3 1165.4,289.6 1168.3,289.0 1171.2,288.3 1174.2,287.7 1177.1,287.1 1180.0,286.4 1183.0,285.8 1185.9,285.2 1188.9,284.6 1191.8,284.0 1194.7,283.3 1197.7,282.7 1200.6,282.1 1203.6,281.5 1206.5,280.9 1209.4,280.3 1212.4,279.7 1215.3,279.1 1218.3,278.5 1221.2,278.0 1224.1,277.4 1227.1,276.8 1230.0,276.2 1233.0,275.7 1235.9,275.1 1238.9,274.6 1241.8,274.0 1244.8,273.5 1247.7,272.9 1250.7,272.4 1253.6,271.9 1256.6,271.3 1259.5,270.8 1262.5,270.3 1265.4,269.8 1268.4,269.3 1271.3,268.8 1274.3,268.3 1277.2,267.8 1280.2,267.4 1283.2,266.9 1286.1,266.4 1289.1,266.0 1292.0,265.5 1295.0,265.1 1298.0,264.7 1300.9,264.2 1303.9,263.8 1306.8,263.4 1309.8,263.0 1312.8,262.6 1315.7,262.2 1318.7,261.8 1321.7,261.5 1324.7,261.1 1327.6,260.7 1330.6,260.4 1333.6,260.1 1336.6,259.7 1339.5,259.4 1342.5,259.1 1345.5,258.8 1348.5,258.5 1351.5,258.2 1354.4,257.9 1357.4,257.7 1360.4,257.4 1363.4,257.2 1366.4,256.9 1369.4,256.7 1372.4,256.5 1375.4,256.3 1378.3,256.1 1381.3,255.9 1384.3,255.7 1387.3,255.6 1390.3,255.4 1393.3,255.3 1396.3,255.1 1399.3,255.0 1402.4,254.9 1405.4,254.8 1408.4,254.7 1411.4,254.6 1414.4,254.6 1417.4,254.5 1420.4,254.4 1423.4,254.4 1426.4,254.3 1429.5,254.3 1432.5,254.3 1435.5,254.2 1438.5,254.2 1441.5,254.2 1444.5,254.1 1447.6,254.1 1450.6,254.1 1453.6,254.0 1456.6,254.0 1459.6,254.0 1462.6,253.9 1465.7,253.9 1468.7,253.8 1471.7,253.8 1474.7,253.7 1477.7,253.6 1480.7,253.5 1483.7,253.4 1486.7,253.3 1489.7,253.2 1492.8,253.1 1495.8,253.0 1498.8,252.9 1501.8,252.7 1504.8,252.6 1507.8,252.4 1510.8,252.3 1513.8,252.1 1516.8,251.9 1519.8,251.8 1522.8,251.6 1525.8,251.4 1528.8,251.2 1531.8,251.1 1534.8,250.9 1537.8,250.7 1540.8,250.5 1543.8,250.3 1546.8,250.1 1549.8,249.9 1552.8,249.7 1555.8,249.6 1558.8,249.4 1561.8,249.2 1564.8,249.0 1567.9,248.8 1570.9,248.6 1573.9,248.4 1576.9,248.3 1579.9,248.1 1582.9,247.9 1585.9,247.7 1588.9,247.5 1591.9,247.3 1594.9,247.1 1597.9,246.9 1600.9,246.6 1603.9,246.4 1606.9,246.2 1609.9,245.9 1612.9,245.7 1615.9,245.4 1618.9,245.1 1621.9,244.9 1624.9,244.6 1627.9,244.3 1630.9,243.9 1633.8,243.6 1636.8,243.2 1639.8,242.9 1642.8,242.5 1645.7,242.1 1648.7,241.7 1651.7,241.3 1654.6,240.8 1657.6,240.4 1660.5,239.9 1663.5,239.4 1666.4,238.9 1669.4,238.3 1672.3,237.7 1675.2,237.1 1678.1,236.5 1681.1,235.9 1684.0,235.2 1686.9,234.6 1689.8,233.8 1692.7,233.1 1695.6,232.3 1698.5,231.5 1701.3,230.7 1704.2,229.9 1707.1,229.0 1709.9,228.1 1712.8,227.2 1715.6,226.2 1718.5,225.2 1721.3,224.2 1724.1,223.1 1727.0,222.1 1729.8,221.0 1732.6,219.9 1735.3,218.7 1738.1,217.5 1740.9,216.3 1743.6,215.1 1746.4,213.9 1749.1,212.6 1751.9,211.3 1754.6,210.0 1757.3,208.6 1760.0,207.2 1762.6,205.8 1765.3,204.4 1768.0,203.0 1770.6,201.5 1773.2,200.0 1775.9,198.5 1778.5,196.9 1781.0,195.4 1783.6,193.8 1786.2,192.2 1788.7,190.5 1791.3,188.9 1793.8,187.2 1796.3,185.5 1798.7,183.8 1801.2,182.0 1803.7,180.3 1806.1,178.5 1808.5,176.7 1810.9,174.9 1813.3,173.0 1815.7,171.1 1818.0,169.3 1820.3,167.3 1822.6,165.4 1824.9,163.5 1827.2,161.5 1829.4,159.5 1831.6,157.4 1833.7,155.4 1835.9,153.3 1838.0,151.2 1840.0,149.0 1842.0,146.8 1844.0,144.6 1845.9,142.4 1847.8,140.1 1849.7,137.8 1851.5,135.4 1853.2,133.0 1854.9,130.6 1856.6,128.1 1858.2,125.6 1859.7,123.1 1861.2,120.5 1862.6,117.8 1863.9,115.2 1865.2,112.4 1866.4,109.7 1867.6,106.8 1868.7,104.0 1869.7,101.1"/>
<path stroke="#ff00ff" d="M488.0,886.1 L491.0,885.9 493.9,885.7 496.9,885.5 499.9,885.2 502.9,885.0 505.9,884.8 508.8,884.5 511.8,884.2 514.8,884.0 517.8,883.7 520.8,883.4 523.8,883.1 526.8,882.8 529.8,882.5 532.7,882.2 535.7,881.9 538.7,881.6 541.7,881.3 544.7,881.0 547.7,880.7 550.7,880.4 553.7,880.0 556.7,879.7 559.7,879.4 562.7,879.1 565.7,878.7 568.7,878.4 571.7,878.1 574.8,877.8 577.8,877.5 580.8,877.1 583.8,876.8 586.8,876.5 589.8,876.2 592.8,875.9 595.8,875.6 598.8,875.3 601.8,875.1 604.8,874.8 607.9,874.5 610.9,874.3 613.9,874.0 616.9,873.8 619.9,873.5 622.9,873.3 625.9,873.1 628.9,872.9 631.9,872.7 635.0,872.5 638.0,872.3 641.0,872.1 644.0,872.0 647.0,871.8 650.0,871.7 653.0,871.6 656.0,871.5 659.0,871.4 662.0,871.3 665.0,871.3 668.1,871.3 671.1,871.2 674.1,871.2 677.1,871.2 680.1,871.3 683.1,871.3 686.1,871.4 689.1,871.5 692.1,871.6 695.1,871.7 698.1,871.9 701.1,872.0 704.1,872.2 707.1,872.4 710.0,872.7 713.0,872.9 716.0,873.2 719.0,873.5 722.0,873.8 725.0,874.2 728.0,874.5 730.9,875.0 733.9,875.4 736.9,875.8 739.8,876.3 742.8,876.9 745.7,877.4 748.7,878.0 751.6,878.6 754.5,879.3 757.4,880.0 760.3,880.7 763.2,881.5 766.1,882.3 768.9,883.2 771.8,884.1 774.6,885.0 777.4,886.0 780.2,887.0 783.0,888.1 785.7,889.2 788.5,890.4 791.2,891.6 793.9,892.9 796.5,894.2 799.2,895.6 801.8,897.0 804.4,898.5 807.0,900.0 809.5,901.6 812.1,903.2 814.6,904.8 817.1,906.5 819.6,908.2 822.1,909.9 824.6,911.7 827.0,913.4 829.5,915.2 832.0,917.0 834.4,918.8 836.9,920.6 839.4,922.4 841.8,924.2 844.3,926.0 846.8,927.7 849.3,929.5 851.8,931.2 854.3,932.9 856.9,934.6 859.4,936.3 862.0,937.9 864.6,939.4 867.2,941.0 869.8,942.5 872.5,943.9 875.2,945.3 877.9,946.6 880.7,947.9 883.4,949.0 886.3,950.2 889.1,951.2 892.0,952.2 894.9,953.2 897.8,954.0 900.7,954.8 903.6,955.5 906.6,956.1 909.6,956.7 912.5,957.2 915.5,957.6 918.5,958.0 921.5,958.2 924.5,958.4 927.5,958.5 930.5,958.5 933.5,958.4 936.4,958.3 939.4,958.1 942.4,957.7 945.3,957.3 948.2,956.8 951.1,956.3 954.0,955.6 956.8,954.8 959.7,954.0 962.5,953.0 965.3,952.0 968.0,950.9 970.8,949.8 973.5,948.5 976.2,947.2 978.8,945.9 981.5,944.4 984.1,942.9 986.7,941.4 989.2,939.8 991.8,938.1 994.3,936.4 996.8,934.6 999.2,932.8 1001.6,931.0 1004.0,929.1 1006.4,927.2 1008.8,925.2 1011.1,923.2 1013.4,921.2 1015.6,919.2 1017.9,917.1 1020.1,915.0 1022.3,912.9 1024.4,910.8 1026.6,908.6 1028.7,906.5 1030.7,904.3 1032.8,902.1 1034.8,899.9 1036.8,897.7 1038.8,895.5 1040.8,893.2 1042.8,890.9 1044.7,888.7 1046.7,886.4 1048.6,884.1 1050.5,881.8 1052.4,879.5 1054.2,877.1 1056.1,874.8 1058.0,872.4 1059.8,870.1 1061.7,867.7 1063.5,865.4 1065.3,863.0 1067.2,860.6 1069.0,858.2 1070.8,855.9 1072.6,853.5 1074.5,851.1 1076.3,848.7 1078.1,846.3 1079.9,843.9 1081.7,841.5 1083.5,839.0 1085.3,836.6 1087.1,834.2 1088.8,831.8 1090.6,829.3 1092.4,826.9 1094.1,824.4 1095.9,822.0 1097.6,819.5 1099.3,817.0 1101.1,814.6 1102.8,812.1 1104.5,809.6 1106.2,807.1 1107.8,804.6 1109.5,802.1 1111.2,799.6 1112.8,797.1 1114.4,794.5 1116.0,792.0 1117.7,789.4 1119.2,786.9 1120.8,784.3 1122.4,781.7 1123.9,779.2 1125.5,776.6 1127.0,774.0 1128.5,771.4 1130.0,768.8 1131.5,766.2 1132.9,763.5 1134.4,760.9 1135.8,758.3 1137.3,755.6 1138.7,753.0 1140.1,750.3 1141.6,747.7 1143.0,745.0 1144.4,742.4 1145.8,739.7 1147.2,737.0 1148.6,734.4 1150.0,731.7 1151.4,729.0 1152.8,726.4 1154.2,723.7 1155.5,721.0 1156.9,718.4 1158.3,715.7 1159.7,713.0 1161.1,710.4 1162.5,707.7 1163.9,705.0 1165.4,702.4 1166.8,699.7 1168.2,697.1 1169.6,694.4 1171.1,691.8 1172.5,689.1 1174.0,686.5 1175.4,683.9 1176.9,681.2 1178.3,678.6 1179.8,676.0 1181.2,673.3 1182.7,670.7 1184.1,668.0 1185.6,665.4 1187.0,662.7 1188.4,660.1 1189.9,657.4 1191.3,654.8 1192.7,652.1 1194.1,649.5 1195.5,646.8 1196.8,644.1 1198.2,641.5 1199.6,638.8 1200.9,636.1 1202.3,633.4 1203.6,630.7 1204.9,628.0 1206.2,625.3 1207.5,622.6 1208.8,619.9 1210.1,617.2 1211.4,614.5 1212.7,611.7 1214.0,609.0 1215.2,606.3 1216.5,603.6 1217.7,600.8 1219.0,598.1 1220.2,595.4 1221.5,592.6 1222.7,589.9 1223.9,587.1 1225.1,584.4 1226.4,581.6 1227.6,578.9 1228.8,576.1 1230.0,573.4 1231.2,570.6 1232.4,567.9 1233.6,565.1 1234.8,562.3 1236.0,559.6 1237.2,556.8 1238.3,554.0 1239.5,551.3 1240.7,548.5 1241.9,545.7 1243.1,543.0 1244.3,540.2 1245.5,537.4 1246.6,534.7 1247.8,531.9 1249.0,529.1 1250.2,526.4 1251.4,523.6 1252.6,520.8 1253.8,518.1 1255.0,515.3 1256.1,512.5 1257.3,509.8 1258.5,507.0 1259.7,504.2 1260.9,501.5 1262.2,498.7 1263.4,495.9 1264.6,493.2 1265.8,490.4 1267.0,487.7 1268.2,484.9 1269.5,482.2 1270.7,479.4 1272.0,476.7 1273.2,473.9 1274.5,471.2 1275.7,468.4 1277.0,465.7 1278.3,463.0 1279.5,460.3 1280.8,457.5 1282.1,454.8 1283.4,452.1 1284.8,449.4 1286.1,446.7 1287.4,444.0 1288.7,441.3 1290.1,438.6 1291.5,435.9 1292.8,433.3 1294.2,430.6 1295.6,427.9 1297.0,425.3 1298.4,422.6 1299.8,420.0 1301.3,417.4 1302.7,414.7 1304.2,412.1 1305.6,409.5 1307.1,406.9 1308.6,404.3 1310.1,401.7 1311.7,399.1 1313.2,396.6 1314.8,394.0 1316.3,391.5 1317.9,388.9 1319.5,386.4 1321.1,383.9 1322.8,381.4 1324.4,378.9 1326.1,376.4 1327.7,373.9 1329.4,371.4 1331.1,369.0 1332.9,366.5 1334.6,364.1 1336.4,361.6 1338.2,359.2 1340.0,356.8 1341.8,354.4 1343.6,352.0 1345.4,349.7 1347.3,347.3 1349.2,344.9 1351.1,342.6 1353.0,340.2 1354.9,337.9 1356.8,335.6 1358.8,333.2 1360.7,330.9 1362.7,328.6 1364.6,326.3 1366.6,324.0 1368.6,321.7 1370.6,319.4 1372.7,317.1 1374.7,314.8 1376.7,312.5 1378.8,310.2 1380.8,307.9 1382.9,305.6 1385.0,303.4 1387.1,301.1 1389.2,298.8 1391.3,296.6 1393.4,294.4 1395.6,292.2 1397.8,290.1 1400.0,288.1 1402.3,286.1 1404.6,284.2 1406.9,282.4 1409.2,280.6 1411.6,279.0 1414.1,277.4 1416.6,275.9 1419.1,274.4 1421.6,273.0 1424.1,271.7 1426.7,270.5 1429.4,269.3 1432.0,268.2 1434.7,267.1 1437.4,266.1 1440.1,265.2 1442.9,264.3 1445.6,263.4 1448.4,262.7 1451.2,261.9 1454.1,261.2 1456.9,260.6 1459.8,260.0 1462.7,259.4 1465.6,258.9 1468.5,258.4 1471.5,258.0 1474.4,257.6 1477.4,257.2 1480.4,256.9 1483.3,256.6 1486.3,256.3 1489.3,256.0 1492.4,255.8 1495.4,255.6 1498.4,255.4 1501.4,255.2 1504.5,255.1 1507.5,254.9 1510.5,254.8 1513.6,254.7 1516.6,254.6 1519.7,254.5 1522.7,254.4 1525.7,254.3 1528.8,254.3 1531.8,254.2 1534.8,254.1 1537.8,254.1 1540.9,254.0 1543.9,254.0 1546.9,253.9 1549.9,253.8 1553.0,253.8 1556.0,253.7 1559.0,253.7 1562.0,253.6 1565.0,253.5 1568.0,253.5 1571.0,253.4 1574.0,253.3 1577.0,253.2 1580.1,253.1 1583.1,253.0 1586.1,252.9 1589.1,252.8 1592.0,252.6 1595.0,252.5 1598.0,252.3 1601.0,252.1 1604.0,252.0 1607.0,251.8 1610.0,251.5 1613.0,251.3 1616.0,251.1 1618.9,250.8 1621.9,250.5 1624.9,250.2 1627.9,249.9 1630.9,249.5 1633.8,249.2 1636.8,248.8 1639.8,248.4 1642.7,248.0 1645.7,247.5 1648.7,247.0 1651.6,246.5 1654.6,246.0 1657.6,245.5 1660.5,244.9 1663.5,244.3 1666.4,243.7 1669.4,243.1 1672.3,242.4 1675.2,241.7 1678.2,241.0 1681.1,240.3 1684.0,239.6 1686.9,238.8 1689.8,238.0 1692.8,237.2 1695.7,236.4 1698.5,235.5 1701.4,234.6 1704.3,233.7 1707.2,232.8 1710.1,231.9 1712.9,230.9 1715.8,229.9 1718.6,228.9 1721.5,227.9 1724.3,226.9 1727.1,225.8 1729.9,224.8 1732.8,223.7 1735.6,222.5 1738.3,221.4 1741.1,220.2 1743.9,219.1 1746.6,217.8 1749.4,216.6 1752.1,215.4 1754.8,214.1 1757.5,212.7 1760.2,211.4 1762.8,210.0 1765.4,208.5 1768.0,207.0 1770.6,205.4 1773.1,203.8 1775.6,202.2 1778.1,200.5 1780.5,198.7 1782.9,196.9 1785.3,195.1 1787.6,193.2 1789.9,191.2 1792.2,189.2 1794.5,187.2 1796.7,185.2 1798.8,183.1 1800.9,180.9 1803.0,178.7 1805.1,176.5 1807.1,174.3 1809.1,172.0 1811.0,169.7 1812.9,167.4 1814.8,165.0 1816.6,162.6 1818.4,160.2 1820.1,157.7 1821.8,155.2 1823.4,152.7 1825.0,150.2 1826.6,147.6 1828.1,145.0 1829.6,142.4 1831.0,139.7 1832.4,137.1 1833.8,134.4 1835.1,131.7 1836.4,129.0 1837.7,126.2 1838.9,123.5 1840.1,120.7 1841.3,117.9 1842.4,115.1 1843.5,112.3 1844.5,109.5 1845.6,106.7 1846.6,103.9 1847.5,101.0"/>
<path stroke="#000080" d="M488.0,1076.5 L491.0,1076.1 494.0,1075.7 497.0,1075.3 500.0,1074.8 503.0,1074.4 506.0,1074.0 509.0,1073.6 512.0,1073.2 515.0,1072.7 518.0,1072.3 521.0,1071.9 524.0,1071.5 526.9,1071.1 529.9,1070.6 532.9,1070.2 535.9,1069.8 538.8,1069.4 541.8,1069.0 544.8,1068.6 547.7,1068.2 550.7,1067.8 553.7,1067.4 556.6,1067.0 559.6,1066.6 562.6,1066.2 565.5,1065.8 568.5,1065.4 571.4,1065.1 574.4,1064.7 577.4,1064.3 580.3,1064.0 583.3,1063.6 586.3,1063.3 589.2,1063.0 592.2,1062.6 595.2,1062.3 598.1,1062.0 601.1,1061.7 604.1,1061.4 607.0,1061.1 610.0,1060.9 613.0,1060.6 616.0,1060.3 618.9,1060.1 621.9,1059.8 624.9,1059.6 627.9,1059.4 630.9,1059.2 633.9,1059.0 636.9,1058.8 639.9,1058.7 642.9,1058.5 645.9,1058.4 648.9,1058.2 651.9,1058.1 654.9,1058.0 657.9,1057.9 660.9,1057.8 664.0,1057.8 667.0,1057.7 670.0,1057.7 673.1,1057.7 676.1,1057.7 679.2,1057.7 682.2,1057.7 685.3,1057.8 688.3,1057.8 691.4,1057.9 694.4,1058.0 697.5,1058.2 700.6,1058.3 703.6,1058.5 706.7,1058.7 709.7,1058.9 712.8,1059.2 715.8,1059.5 718.8,1059.8 721.8,1060.2 724.9,1060.6 727.8,1061.1 730.8,1061.5 733.8,1062.0 736.8,1062.6 739.7,1063.2 742.6,1063.8 745.5,1064.5 748.4,1065.3 751.2,1066.0 754.1,1066.9 756.9,1067.8 759.7,1068.7 762.5,1069.7 765.2,1070.7 767.9,1071.8 770.6,1073.0 773.3,1074.2 775.9,1075.5 778.5,1076.8 781.0,1078.2 783.6,1079.7 786.1,1081.2 788.5,1082.7 791.0,1084.3 793.4,1086.0 795.8,1087.7 798.2,1089.5 800.6,1091.2 803.0,1093.1 805.3,1094.9 807.6,1096.8 809.9,1098.7 812.2,1100.7 814.5,1102.6 816.8,1104.6 819.1,1106.6 821.4,1108.6 823.6,1110.7 825.9,1112.7 828.2,1114.8 830.5,1116.8 832.8,1118.9 835.0,1120.9 837.3,1123.0 839.6,1125.1 842.0,1127.1 844.3,1129.1 846.6,1131.1 849.0,1133.1 851.4,1135.1 853.7,1137.1 856.2,1139.0 858.6,1140.9 861.0,1142.8 863.5,1144.7 866.0,1146.5 868.6,1148.2 871.1,1150.0 873.7,1151.7 876.3,1153.3 879.0,1154.9 881.6,1156.4 884.3,1157.9 887.0,1159.3 889.7,1160.7 892.4,1161.9 895.1,1163.1 897.9,1164.3 900.7,1165.3 903.4,1166.3 906.2,1167.2 909.0,1168.0 911.9,1168.7 914.7,1169.3 917.5,1169.8 920.4,1170.1 923.2,1170.4 926.1,1170.6 929.0,1170.7 931.8,1170.6 934.7,1170.5 937.6,1170.2 940.4,1169.8 943.3,1169.3 946.2,1168.7 949.0,1168.0 951.9,1167.2 954.7,1166.3 957.5,1165.4 960.3,1164.3 963.1,1163.2 965.8,1162.0 968.5,1160.7 971.2,1159.3 973.9,1157.9 976.5,1156.4 979.1,1154.8 981.7,1153.2 984.2,1151.5 986.7,1149.8 989.1,1148.0 991.5,1146.2 993.9,1144.4 996.2,1142.5 998.5,1140.5 1000.7,1138.5 1002.9,1136.5 1005.1,1134.4 1007.2,1132.3 1009.3,1130.2 1011.3,1128.0 1013.4,1125.8 1015.4,1123.6 1017.3,1121.3 1019.3,1119.0 1021.2,1116.6 1023.1,1114.3 1024.9,1111.9 1026.7,1109.5 1028.5,1107.0 1030.3,1104.6 1032.1,1102.1 1033.8,1099.6 1035.5,1097.0 1037.2,1094.5 1038.9,1091.9 1040.5,1089.4 1042.2,1086.8 1043.8,1084.2 1045.4,1081.5 1047.0,1078.9 1048.6,1076.3 1050.2,1073.6 1051.7,1071.0 1053.3,1068.3 1054.8,1065.7 1056.3,1063.0 1057.9,1060.3 1059.4,1057.7 1060.9,1055.0 1062.4,1052.3 1063.9,1049.7 1065.4,1047.0 1066.9,1044.3 1068.4,1041.7 1069.9,1039.0 1071.4,1036.4 1072.9,1033.7 1074.3,1031.1 1075.8,1028.4 1077.3,1025.8 1078.8,1023.2 1080.2,1020.5 1081.7,1017.9 1083.1,1015.3 1084.6,1012.6 1086.0,1010.0 1087.5,1007.3 1088.9,1004.7 1090.3,1002.1 1091.7,999.4 1093.2,996.8 1094.6,994.2 1096.0,991.5 1097.4,988.9 1098.8,986.2 1100.1,983.6 1101.5,980.9 1102.9,978.3 1104.2,975.6 1105.6,972.9 1106.9,970.3 1108.3,967.6 1109.6,964.9 1110.9,962.3 1112.2,959.6 1113.5,956.9 1114.8,954.2 1116.1,951.5 1117.3,948.8 1118.6,946.1 1119.9,943.3 1121.1,940.6 1122.3,937.9 1123.6,935.2 1124.8,932.4 1126.0,929.7 1127.2,926.9 1128.4,924.2 1129.6,921.4 1130.8,918.7 1132.0,915.9 1133.2,913.1 1134.4,910.4 1135.5,907.6 1136.7,904.9 1137.9,902.1 1139.1,899.3 1140.3,896.5 1141.4,893.8 1142.6,891.0 1143.8,888.2 1145.0,885.5 1146.2,882.7 1147.4,879.9 1148.5,877.1 1149.7,874.4 1150.9,871.6 1152.1,868.9 1153.3,866.1 1154.6,863.3 1155.8,860.6 1157.0,857.8 1158.2,855.1 1159.5,852.3 1160.7,849.6 1162.0,846.9 1163.2,844.1 1164.5,841.4 1165.7,838.7 1167.0,835.9 1168.2,833.2 1169.5,830.5 1170.8,827.7 1172.0,825.0 1173.3,822.3 1174.5,819.5 1175.7,816.8 1177.0,814.0 1178.2,811.3 1179.4,808.6 1180.6,805.8 1181.8,803.1 1183.0,800.3 1184.2,797.6 1185.4,794.8 1186.6,792.0 1187.7,789.2 1188.9,786.5 1190.0,783.7 1191.1,780.9 1192.2,778.1 1193.3,775.3 1194.3,772.5 1195.4,769.7 1196.4,766.9 1197.5,764.0 1198.5,761.2 1199.5,758.4 1200.5,755.5 1201.5,752.7 1202.5,749.9 1203.4,747.0 1204.4,744.2 1205.3,741.3 1206.3,738.5 1207.3,735.6 1208.2,732.8 1209.1,729.9 1210.1,727.0 1211.0,724.2 1212.0,721.3 1212.9,718.5 1213.8,715.6 1214.8,712.7 1215.7,709.9 1216.7,707.0 1217.6,704.2 1218.6,701.3 1219.5,698.5 1220.5,695.6 1221.5,692.8 1222.5,690.0 1223.4,687.1 1224.4,684.3 1225.4,681.4 1226.4,678.6 1227.4,675.8 1228.4,672.9 1229.4,670.1 1230.4,667.3 1231.4,664.5 1232.4,661.6 1233.4,658.8 1234.4,656.0 1235.4,653.1 1236.4,650.3 1237.3,647.5 1238.3,644.6 1239.3,641.8 1240.3,638.9 1241.3,636.1 1242.2,633.3 1243.2,630.4 1244.2,627.6 1245.2,624.7 1246.1,621.9 1247.1,619.0 1248.1,616.2 1249.0,613.4 1250.0,610.5 1251.0,607.7 1251.9,604.8 1252.9,602.0 1253.8,599.1 1254.8,596.3 1255.8,593.4 1256.7,590.6 1257.7,587.7 1258.7,584.9 1259.6,582.0 1260.6,579.2 1261.6,576.4 1262.5,573.5 1263.5,570.7 1264.5,567.8 1265.5,565.0 1266.4,562.1 1267.4,559.3 1268.4,556.5 1269.4,553.6 1270.4,550.8 1271.3,547.9 1272.3,545.1 1273.3,542.3 1274.3,539.4 1275.3,536.6 1276.3,533.8 1277.3,530.9 1278.3,528.1 1279.4,525.3 1280.4,522.5 1281.4,519.6 1282.4,516.8 1283.5,514.0 1284.5,511.2 1285.5,508.4 1286.6,505.5 1287.6,502.7 1288.7,499.9 1289.8,497.1 1290.8,494.3 1291.9,491.5 1293.0,488.7 1294.1,485.9 1295.2,483.1 1296.3,480.3 1297.4,477.5 1298.5,474.7 1299.6,471.9 1300.7,469.2 1301.9,466.4 1303.0,463.6 1304.2,460.8 1305.3,458.0 1306.5,455.3 1307.7,452.5 1308.8,449.8 1310.0,447.0 1311.2,444.2 1312.4,441.5 1313.6,438.7 1314.9,436.0 1316.1,433.2 1317.4,430.5 1318.6,427.8 1319.9,425.0 1321.1,422.3 1322.4,419.6 1323.7,416.9 1325.0,414.2 1326.3,411.5 1327.7,408.7 1329.0,406.0 1330.3,403.4 1331.7,400.7 1333.1,398.0 1334.5,395.3 1335.8,392.6 1337.2,389.9 1338.7,387.3 1340.1,384.6 1341.5,382.0 1343.0,379.3 1344.5,376.7 1346.0,374.1 1347.5,371.4 1349.0,368.8 1350.5,366.3 1352.1,363.7 1353.7,361.1 1355.3,358.5 1356.9,356.0 1358.5,353.5 1360.2,351.0 1361.9,348.5 1363.6,346.0 1365.3,343.5 1367.0,341.1 1368.8,338.6 1370.5,336.2 1372.4,333.8 1374.2,331.4 1376.0,329.1 1377.9,326.7 1379.8,324.4 1381.8,322.1 1383.7,319.8 1385.7,317.6 1387.7,315.3 1389.7,313.1 1391.8,310.9 1393.9,308.8 1396.0,306.6 1398.2,304.5 1400.4,302.4 1402.6,300.4 1404.8,298.4 1407.1,296.4 1409.4,294.4 1411.7,292.5 1414.1,290.6 1416.5,288.8 1418.9,287.0 1421.3,285.2 1423.8,283.6 1426.3,281.9 1428.9,280.3 1431.4,278.8 1434.0,277.4 1436.6,276.0 1439.3,274.6 1441.9,273.4 1444.6,272.2 1447.3,271.0 1450.1,270.0 1452.9,269.0 1455.6,268.0 1458.5,267.1 1461.3,266.3 1464.1,265.5 1467.0,264.7 1469.9,264.0 1472.7,263.3 1475.6,262.7 1478.5,262.1 1481.4,261.5 1484.4,260.9 1487.3,260.3 1490.2,259.8 1493.1,259.3 1496.1,258.8 1499.0,258.3 1502.0,257.8 1504.9,257.4 1507.9,257.0 1510.9,256.6 1513.9,256.2 1516.8,255.8 1519.8,255.4 1522.8,255.1 1525.8,254.8 1528.8,254.4 1531.8,254.1 1534.8,253.8 1537.8,253.5 1540.8,253.2 1543.8,253.0 1546.8,252.7 1549.8,252.4 1552.8,252.2 1555.8,251.9 1558.8,251.7 1561.8,251.5 1564.8,251.2 1567.9,251.0 1570.9,250.8 1573.9,250.6 1576.9,250.3 1579.9,250.1 1582.9,249.9 1585.9,249.7 1589.0,249.4 1592.0,249.2 1595.0,249.0 1598.0,248.8 1601.0,248.5 1604.0,248.3 1607.0,248.0 1610.0,247.8 1613.0,247.5 1616.0,247.2 1619.0,246.9 1622.0,246.6 1624.9,246.3 1627.9,246.0 1630.9,245.6 1633.8,245.2 1636.8,244.9 1639.8,244.4 1642.7,244.0 1645.7,243.5 1648.6,243.0 1651.5,242.5 1654.5,241.9 1657.4,241.4 1660.3,240.7 1663.2,240.1 1666.1,239.4 1669.0,238.7 1671.9,237.9 1674.8,237.1 1677.6,236.2 1680.5,235.4 1683.3,234.5 1686.2,233.5 1689.1,232.6 1691.9,231.6 1694.7,230.6 1697.6,229.6 1700.4,228.6 1703.3,227.6 1706.1,226.5 1709.0,225.5 1711.8,224.4 1714.6,223.3 1717.4,222.2 1720.3,221.1 1723.1,220.0 1725.9,218.8 1728.6,217.6 1731.4,216.4 1734.1,215.2 1736.9,213.9 1739.6,212.6 1742.3,211.3 1744.9,209.9 1747.6,208.5 1750.2,207.0 1752.8,205.5 1755.4,204.0 1757.9,202.4 1760.4,200.8 1762.9,199.2 1765.4,197.5 1767.8,195.7 1770.1,193.9 1772.5,192.0 1774.8,190.1 1777.0,188.2 1779.3,186.1 1781.5,184.1 1783.6,182.0 1785.7,179.8 1787.8,177.7 1789.8,175.4 1791.8,173.2 1793.8,170.9 1795.7,168.5 1797.6,166.2 1799.4,163.8 1801.2,161.4 1803.0,158.9 1804.7,156.4 1806.4,153.9 1808.1,151.4 1809.7,148.8 1811.3,146.3 1812.9,143.7 1814.4,141.1 1815.9,138.5 1817.4,135.8 1818.9,133.2 1820.3,130.5 1821.7,127.9 1823.1,125.2 1824.5,122.5 1825.9,119.8 1827.2,117.1 1828.5,114.4 1829.8,111.7 1831.1,109.1 1832.4,106.4 1833.7,103.7 1835.0,101.0"/>
<path stroke="#008080" d="M488.5,322.4 L491.5,322.1 494.5,321.7 497.5,321.3 500.5,321.0 503.6,320.6 506.6,320.3 509.6,319.9 512.6,319.6 515.6,319.2 518.6,318.9 521.6,318.5 524.7,318.2 527.7,317.9 530.7,317.5 533.7,317.2 536.7,316.8 539.7,316.5 542.7,316.1 545.7,315.8 548.7,315.4 551.8,315.1 554.8,314.8 557.8,314.4 560.8,314.1 563.8,313.8 566.8,313.4 569.8,313.1 572.8,312.7 575.8,312.4 578.8,312.1 581.8,311.7 584.8,311.4 587.8,311.1 590.8,310.7 593.8,310.4 596.8,310.1 599.8,309.8 602.8,309.4 605.8,309.1 608.8,308.8 611.8,308.4 614.8,308.1 617.8,307.8 620.8,307.5 623.8,307.1 626.8,306.8 629.8,306.5 632.8,306.2 635.8,305.9 638.8,305.5 641.8,305.2 644.8,304.9 647.8,304.6 650.8,304.3 653.8,303.9 656.8,303.6 659.8,303.3 662.8,303.0 665.8,302.7 668.8,302.4 671.8,302.1 674.8,301.7 677.8,301.4 680.8,301.1 683.8,300.8 686.7,300.5 689.7,300.2 692.7,299.9 695.7,299.6 698.7,299.3 701.7,299.0 704.7,298.7 707.7,298.4 710.7,298.1 713.7,297.8 716.7,297.5 719.6,297.2 722.6,296.9 725.6,296.6 728.6,296.3 731.6,296.0 734.6,295.7 737.6,295.4 740.6,295.1 743.5,294.8 746.5,294.5 749.5,294.2 752.5,293.9 755.5,293.6 758.5,293.3 761.5,293.0 764.4,292.7 767.4,292.5 770.4,292.2 773.4,291.9 776.4,291.6 779.4,291.3 782.4,291.0 785.3,290.7 788.3,290.4 791.3,290.2 794.3,289.9 797.3,289.6 800.3,289.3 803.2,289.0 806.2,288.8 809.2,288.5 812.2,288.2 815.2,287.9 818.2,287.6 821.1,287.4 824.1,287.1 827.1,286.8 830.1,286.6 833.1,286.3 836.1,286.0 839.0,285.7 842.0,285.5 845.0,285.2 848.0,284.9 851.0,284.7 854.0,284.4 856.9,284.1 859.9,283.9 862.9,283.6 865.9,283.3 868.9,283.1 871.8,282.8 874.8,282.5 877.8,282.3 880.8,282.0 883.8,281.7 886.7,281.5 889.7,281.2 892.7,281.0 895.7,280.7 898.7,280.5 901.7,280.2 904.6,279.9 907.6,279.7 910.6,279.4 913.6,279.2 916.6,278.9 919.5,278.7 922.5,278.4 925.5,278.2 928.5,277.9 931.5,277.7 934.4,277.4 937.4,277.2 940.4,276.9 943.4,276.7 946.4,276.4 949.4,276.2 952.3,276.0 955.3,275.7 958.3,275.5 961.3,275.2 964.3,275.0 967.2,274.7 970.2,274.5 973.2,274.3 976.2,274.0 979.2,273.8 982.2,273.6 985.1,273.3 988.1,273.1 991.1,272.9 994.1,272.6 997.1,272.4 1000.1,272.2 1003.0,271.9 1006.0,271.7 1009.0,271.5 1012.0,271.2 1015.0,271.0 1018.0,270.8 1020.9,270.6 1023.9,270.3 1026.9,270.1 1029.9,269.9 1032.9,269.7 1035.9,269.4 1038.8,269.2 1041.8,269.0 1044.8,268.8 1047.8,268.5 1050.8,268.3 1053.8,268.1 1056.8,267.9 1059.7,267.7 1062.7,267.5 1065.7,267.2 1068.7,267.0 1071.7,266.8 1074.7,266.6 1077.7,266.4 1080.7,266.2 1083.6,266.0 1086.6,265.8 1089.6,265.5 1092.6,265.3 1095.6,265.1 1098.6,264.9 1101.6,264.7 1104.6,264.5 1107.6,264.3 1110.5,264.1 1113.5,263.9 1116.5,263.7 1119.5,263.5 1122.5,263.3 1125.5,263.1 1128.5,262.9 1131.5,262.7 1134.5,262.5 1137.5,262.3 1140.5,262.1 1143.5,261.9 1146.4,261.7 1149.4,261.5 1152.4,261.3 1155.4,261.1 1158.4,260.9 1161.4,260.7 1164.4,260.5 1167.4,260.4 1170.4,260.2 1173.4,260.0 1176.4,259.8 1179.4,259.6 1182.4,259.4 1185.4,259.2 1188.4,259.0 1191.4,258.9 1194.4,258.7 1197.4,258.5 1200.4,258.3 1203.4,258.1 1206.4,257.9 1209.4,257.8 1212.4,257.6 1215.4,257.4 1218.4,257.2 1221.4,257.1 1224.4,256.9 1227.4,256.7 1230.4,256.5 1233.4,256.4 1236.4,256.2 1239.4,256.0 1242.4,255.8 1245.4,255.7 1248.4,255.5 1251.5,255.3 1254.5,255.2 1257.5,255.0 1260.5,254.8 1263.5,254.7 1266.5,254.5 1269.5,254.3 1272.5,254.2 1275.5,254.0 1278.5,253.8 1281.6,253.7 1284.6,253.5 1287.6,253.4 1290.6,253.2 1293.6,253.0 1296.6,252.9 1299.6,252.7 1302.7,252.6 1305.7,252.4 1308.7,252.3 1311.7,252.1 1314.7,252.0 1317.7,251.8 1320.8,251.6 1323.8,251.5 1326.8,251.3 1329.8,251.2 1332.8,251.0 1335.9,250.9 1338.9,250.8 1341.9,250.6 1344.9,250.5 1347.9,250.3 1351.0,250.2 1354.0,250.0 1357.0,249.9 1360.0,249.7 1363.1,249.6 1366.1,249.5 1369.1,249.3 1372.2,249.2 1375.2,249.0 1378.2,248.9 1381.2,248.8 1384.3,248.6 1387.3,248.5 1390.3,248.4 1393.4,248.2 1396.4,248.1 1399.4,248.0 1402.5,247.8 1405.5,247.7 1408.5,247.6 1411.6,247.4 1414.6,247.3 1417.7,247.2 1420.7,247.0 1423.7,246.9 1426.8,246.8 1429.8,246.6 1432.8,246.5 1435.9,246.4 1438.9,246.2 1442.0,246.1 1445.0,245.9 1448.0,245.8 1451.1,245.6 1454.1,245.5 1457.1,245.3 1460.2,245.2 1463.2,245.0 1466.2,244.8 1469.3,244.7 1472.3,244.5 1475.3,244.3 1478.3,244.1 1481.4,243.9 1484.4,243.7 1487.4,243.5 1490.4,243.3 1493.5,243.1 1496.5,242.8 1499.5,242.6 1502.5,242.4 1505.5,242.1 1508.5,241.9 1511.6,241.6 1514.6,241.3 1517.6,241.0 1520.6,240.7 1523.6,240.5 1526.6,240.1 1529.6,239.8 1532.6,239.5 1535.6,239.2 1538.5,238.8 1541.5,238.5 1544.5,238.1 1547.5,237.7 1550.5,237.3 1553.5,236.9 1556.4,236.5 1559.4,236.1 1562.4,235.7 1565.3,235.2 1568.3,234.8 1571.2,234.3 1574.2,233.8 1577.1,233.3 1580.1,232.8 1583.0,232.3 1586.0,231.7 1588.9,231.2 1591.8,230.6 1594.8,230.0 1597.7,229.5 1600.6,228.8 1603.5,228.2 1606.4,227.6 1609.3,226.9 1612.2,226.2 1615.1,225.6 1618.0,224.8 1620.9,224.1 1623.8,223.4 1626.7,222.6 1629.6,221.9 1632.4,221.1 1635.3,220.3 1638.2,219.4 1641.0,218.6 1643.9,217.7 1646.7,216.8 1649.6,215.9 1652.4,215.0 1655.2,214.1 1658.0,213.1 1660.9,212.1 1663.7,211.1 1666.5,210.1 1669.3,209.1 1672.1,208.0 1674.9,206.9 1677.6,205.8 1680.4,204.7 1683.2,203.5 1685.9,202.3 1688.7,201.2 1691.4,200.0 1694.2,198.7 1696.9,197.5 1699.6,196.2 1702.4,194.9 1705.1,193.6 1707.8,192.3 1710.5,190.9 1713.2,189.5 1715.8,188.1 1718.5,186.7 1721.2,185.3 1723.8,183.9 1726.4,182.4 1729.1,180.9 1731.7,179.4 1734.3,177.9 1736.9,176.3 1739.5,174.7 1742.1,173.2 1744.6,171.6 1747.2,169.9 1749.7,168.3 1752.3,166.6 1754.8,165.0 1757.3,163.3 1759.8,161.5 1762.3,159.8 1764.8,158.1 1767.2,156.3 1769.7,154.5 1772.1,152.7 1774.5,150.9 1776.9,149.0 1779.3,147.2 1781.7,145.3 1784.1,143.4 1786.4,141.5 1788.8,139.5 1791.1,137.6 1793.4,135.6 1795.7,133.6 1798.0,131.6 1800.2,129.6 1802.5,127.6 1804.7,125.5 1807.0,123.4 1809.2,121.4 1811.3,119.3 1813.5,117.1 1815.7,115.0 1817.8,112.8 1819.9,110.7 1822.0,108.5 1824.1,106.3 1826.2,104.1 1828.3,101.8"/>
<path stroke="#990000" d="M487.4,687.4 L490.4,687.2 493.4,687.0 496.5,686.8 499.5,686.5 502.5,686.3 505.5,686.1 508.5,685.9 511.5,685.7 514.5,685.4 517.5,685.2 520.5,685.0 523.5,684.8 526.5,684.5 529.5,684.3 532.5,684.1 535.5,683.9 538.5,683.6 541.5,683.4 544.5,683.2 547.5,683.0 550.5,682.8 553.4,682.5 556.4,682.3 559.4,682.1 562.4,681.9 565.4,681.7 568.4,681.4 571.3,681.2 574.3,681.0 577.3,680.8 580.3,680.6 583.3,680.4 586.3,680.2 589.2,680.0 592.2,679.8 595.2,679.6 598.2,679.5 601.1,679.3 604.1,679.1 607.1,678.9 610.1,678.8 613.1,678.6 616.0,678.4 619.0,678.3 622.0,678.1 625.0,678.0 628.0,677.9 631.0,677.7 633.9,677.6 636.9,677.5 639.9,677.4 642.9,677.3 645.9,677.2 648.9,677.1 651.9,677.0 654.9,676.9 657.8,676.8 660.8,676.8 663.8,676.7 666.8,676.7 669.8,676.6 672.8,676.6 675.8,676.6 678.8,676.6 681.8,676.6 684.8,676.6 687.9,676.6 690.9,676.6 693.9,676.6 696.9,676.7 699.9,676.7 702.9,676.8 705.9,676.9 709.0,676.9 712.0,677.0 715.0,677.2 718.0,677.3 721.1,677.4 724.1,677.6 727.1,677.8 730.1,678.0 733.1,678.3 736.1,678.5 739.1,678.8 742.1,679.1 745.1,679.5 748.1,679.8 751.0,680.2 754.0,680.7 756.9,681.2 759.9,681.7 762.8,682.2 765.7,682.8 768.7,683.4 771.6,684.1 774.4,684.8 777.3,685.6 780.2,686.3 783.0,687.2 785.8,688.1 788.6,689.0 791.5,690.0 794.2,691.0 797.0,692.0 799.8,693.1 802.6,694.2 805.3,695.3 808.1,696.5 810.8,697.6 813.6,698.8 816.3,700.0 819.1,701.3 821.8,702.5 824.5,703.7 827.3,705.0 830.0,706.3 832.8,707.5 835.5,708.8 838.3,710.0 841.0,711.3 843.8,712.5 846.6,713.8 849.4,715.0 852.1,716.2 854.9,717.4 857.8,718.6 860.6,719.8 863.4,720.9 866.3,722.0 869.1,723.1 872.0,724.2 874.9,725.2 877.8,726.2 880.7,727.1 883.6,728.1 886.5,729.0 889.4,729.8 892.3,730.6 895.2,731.4 898.2,732.1 901.1,732.8 904.0,733.4 907.0,734.0 909.9,734.5 912.9,735.0 915.8,735.4 918.8,735.8 921.7,736.1 924.6,736.3 927.6,736.5 930.5,736.6 933.4,736.7 936.4,736.7 939.3,736.6 942.2,736.4 945.1,736.2 948.0,735.9 950.9,735.5 953.8,735.1 956.7,734.5 959.5,733.9 962.4,733.3 965.2,732.5 968.1,731.7 970.9,730.8 973.7,729.9 976.5,728.9 979.3,727.8 982.1,726.7 984.8,725.5 987.6,724.3 990.3,723.1 993.1,721.7 995.8,720.4 998.5,719.0 1001.2,717.5 1003.8,716.0 1006.5,714.5 1009.1,713.0 1011.8,711.4 1014.4,709.8 1017.0,708.1 1019.6,706.5 1022.1,704.8 1024.7,703.0 1027.2,701.3 1029.7,699.6 1032.2,697.8 1034.7,696.0 1037.1,694.2 1039.6,692.4 1042.0,690.6 1044.4,688.8 1046.8,686.9 1049.2,685.0 1051.5,683.2 1053.9,681.3 1056.2,679.3 1058.5,677.4 1060.8,675.5 1063.1,673.5 1065.3,671.6 1067.6,669.6 1069.8,667.6 1072.0,665.6 1074.2,663.5 1076.4,661.5 1078.6,659.4 1080.8,657.4 1082.9,655.3 1085.0,653.2 1087.2,651.1 1089.3,649.0 1091.4,646.8 1093.4,644.7 1095.5,642.5 1097.6,640.4 1099.6,638.2 1101.7,636.0 1103.7,633.8 1105.7,631.5 1107.7,629.3 1109.7,627.1 1111.7,624.8 1113.6,622.6 1115.6,620.3 1117.6,618.0 1119.5,615.7 1121.5,613.4 1123.4,611.1 1125.3,608.8 1127.2,606.5 1129.1,604.2 1131.0,601.8 1132.9,599.5 1134.8,597.2 1136.7,594.8 1138.6,592.5 1140.5,590.1 1142.3,587.7 1144.2,585.4 1146.1,583.0 1147.9,580.6 1149.8,578.2 1151.6,575.9 1153.5,573.5 1155.3,571.1 1157.1,568.7 1159.0,566.3 1160.8,563.9 1162.6,561.5 1164.5,559.1 1166.3,556.7 1168.1,554.4 1170.0,552.0 1171.8,549.6 1173.6,547.2 1175.5,544.8 1177.3,542.4 1179.1,540.0 1180.9,537.6 1182.8,535.2 1184.6,532.9 1186.4,530.5 1188.2,528.1 1190.0,525.7 1191.8,523.3 1193.6,520.8 1195.4,518.4 1197.1,516.0 1198.9,513.6 1200.6,511.1 1202.4,508.7 1204.1,506.2 1205.8,503.8 1207.6,501.3 1209.2,498.8 1210.9,496.4 1212.6,493.9 1214.3,491.3 1215.9,488.8 1217.5,486.3 1219.2,483.8 1220.8,481.3 1222.4,478.7 1224.0,476.2 1225.6,473.6 1227.2,471.1 1228.8,468.5 1230.4,466.0 1232.0,463.4 1233.5,460.8 1235.1,458.3 1236.7,455.7 1238.3,453.1 1239.8,450.6 1241.4,448.0 1243.0,445.5 1244.6,442.9 1246.2,440.3 1247.7,437.8 1249.3,435.2 1250.9,432.7 1252.5,430.2 1254.1,427.6 1255.7,425.1 1257.3,422.6 1258.9,420.1 1260.6,417.6 1262.2,415.0 1263.8,412.5 1265.4,410.0 1267.1,407.5 1268.7,405.0 1270.3,402.5 1272.0,400.0 1273.6,397.5 1275.2,395.0 1276.9,392.5 1278.5,390.0 1280.2,387.5 1281.8,385.0 1283.5,382.6 1285.2,380.1 1286.9,377.6 1288.6,375.1 1290.3,372.6 1292.0,370.2 1293.7,367.7 1295.5,365.3 1297.2,362.8 1299.0,360.4 1300.8,358.0 1302.6,355.5 1304.4,353.1 1306.2,350.7 1308.1,348.4 1309.9,346.0 1311.8,343.6 1313.7,341.3 1315.6,339.0 1317.5,336.7 1319.5,334.4 1321.4,332.1 1323.4,329.9 1325.4,327.7 1327.4,325.5 1329.4,323.3 1331.5,321.1 1333.6,319.0 1335.7,316.8 1337.8,314.8 1340.0,312.7 1342.1,310.6 1344.3,308.6 1346.5,306.6 1348.8,304.7 1351.0,302.8 1353.3,300.9 1355.6,299.0 1358.0,297.2 1360.3,295.4 1362.7,293.6 1365.2,291.8 1367.6,290.1 1370.1,288.5 1372.6,286.8 1375.1,285.2 1377.6,283.6 1380.2,282.1 1382.8,280.6 1385.4,279.1 1388.0,277.7 1390.6,276.3 1393.3,274.9 1396.0,273.6 1398.7,272.3 1401.4,271.0 1404.1,269.7 1406.8,268.5 1409.6,267.4 1412.4,266.2 1415.2,265.2 1418.0,264.1 1420.8,263.1 1423.6,262.1 1426.5,261.1 1429.3,260.2 1432.2,259.3 1435.0,258.5 1437.9,257.7 1440.8,256.9 1443.7,256.1 1446.6,255.4 1449.5,254.8 1452.4,254.1 1455.4,253.5 1458.3,253.0 1461.2,252.4 1464.2,251.9 1467.1,251.4 1470.1,250.9 1473.0,250.5 1476.0,250.1 1479.0,249.7 1482.0,249.4 1484.9,249.0 1487.9,248.7 1490.9,248.4 1493.9,248.1 1496.9,247.8 1499.9,247.6 1502.9,247.4 1505.9,247.2 1508.9,247.0 1511.9,246.8 1514.9,246.6 1517.9,246.4 1521.0,246.3 1524.0,246.1 1527.0,246.0 1530.0,245.8 1533.0,245.7 1536.0,245.6 1539.1,245.4 1542.1,245.3 1545.1,245.2 1548.1,245.1 1551.1,245.0 1554.1,244.8 1557.1,244.7 1560.1,244.6 1563.1,244.4 1566.1,244.3 1569.1,244.2 1572.1,244.0 1575.1,243.9 1578.1,243.7 1581.1,243.5 1584.1,243.4 1587.1,243.2 1590.1,243.0 1593.1,242.8 1596.1,242.6 1599.1,242.4 1602.1,242.2 1605.0,242.0 1608.0,241.8 1611.0,241.6 1614.0,241.4 1617.0,241.2 1620.0,241.0 1622.9,240.7 1625.9,240.5 1628.9,240.2 1631.9,240.0 1634.9,239.7 1637.9,239.5 1640.9,239.2 1643.9,238.9 1646.8,238.7 1649.8,238.4 1652.8,238.1 1655.8,237.8 1658.8,237.5 1661.8,237.2 1664.8,236.9 1667.8,236.6 1670.8,236.3 1673.8,235.9 1676.8,235.6 1679.8,235.3 1682.8,234.9 1685.8,234.5 1688.9,234.2 1691.9,233.8 1694.9,233.4 1697.9,233.0 1700.9,232.6 1703.8,232.1 1706.8,231.6 1709.8,231.1 1712.8,230.6 1715.8,230.1 1718.7,229.5 1721.7,229.0 1724.6,228.4 1727.6,227.7 1730.5,227.1 1733.4,226.4 1736.3,225.6 1739.3,224.9 1742.1,224.1 1745.0,223.3 1747.9,222.4 1750.7,221.5 1753.6,220.5 1756.4,219.6 1759.2,218.5 1762.0,217.5 1764.8,216.4 1767.6,215.2 1770.3,214.0 1773.0,212.8 1775.7,211.5 1778.4,210.2 1781.1,208.8 1783.7,207.3 1786.4,205.9 1789.0,204.3 1791.5,202.8 1794.1,201.1 1796.6,199.5 1799.0,197.8 1801.5,196.0 1803.9,194.2 1806.2,192.3 1808.6,190.4 1810.8,188.5 1813.1,186.5 1815.3,184.5 1817.4,182.4 1819.6,180.3 1821.6,178.1 1823.6,175.9 1825.6,173.6 1827.5,171.3 1829.4,168.9 1831.2,166.5 1832.9,164.1 1834.6,161.6 1836.2,159.1 1837.8,156.5 1839.4,153.9 1840.9,151.3 1842.3,148.6 1843.7,145.9 1845.1,143.2 1846.4,140.4 1847.6,137.7 1848.9,134.9 1850.1,132.1 1851.2,129.3 1852.3,126.5 1853.4,123.7 1854.5,120.8 1855.5,118.0 1856.5,115.2 1857.5,112.3 1858.4,109.5 1859.3,106.7 1860.2,103.8 1861.1,101.0"/>
</g>
<g stroke="#000" stroke-width="4.6" fill="none" stroke-linecap="butt">
<path d="M458.9,102.3 H1869.6 V1448.5 H458.9 Z" stroke-linejoin="miter"/>
<path d="M429.9,102.3 H458.9"/>
<path d="M429.9,251.9 H458.9"/>
<path d="M429.9,401.5 H458.9"/>
<path d="M429.9,551.0 H458.9"/>
<path d="M429.9,700.6 H458.9"/>
<path d="M429.9,850.2 H458.9"/>
<path d="M429.9,999.8 H458.9"/>
<path d="M429.9,1149.3 H458.9"/>
<path d="M429.9,1298.9 H458.9"/>
<path d="M429.9,1448.5 H458.9"/>
<path d="M443.9,177.1 H458.9"/>
<path d="M443.9,326.7 H458.9"/>
<path d="M443.9,476.2 H458.9"/>
<path d="M443.9,625.8 H458.9"/>
<path d="M443.9,775.4 H458.9"/>
<path d="M443.9,925.0 H458.9"/>
<path d="M443.9,1074.6 H458.9"/>
<path d="M443.9,1224.1 H458.9"/>
<path d="M443.9,1373.7 H458.9"/>
<path d="M481.8,1448.5 V1476.5"/>
<path d="M713.1,1448.5 V1476.5"/>
<path d="M944.4,1448.5 V1476.5"/>
<path d="M1175.7,1448.5 V1476.5"/>
<path d="M1407.0,1448.5 V1476.5"/>
<path d="M1638.3,1448.5 V1476.5"/>
<path d="M1869.6,1448.5 V1476.5"/>
<path d="M597.5,1448.5 V1463.5"/>
<path d="M828.8,1448.5 V1463.5"/>
<path d="M1060.0,1448.5 V1463.5"/>
<path d="M1291.4,1448.5 V1463.5"/>
<path d="M1522.7,1448.5 V1463.5"/>
<path d="M1754.0,1448.5 V1463.5"/>
</g>
<g class="t" font-size="72" text-anchor="end">
<text x="410.8" y="123.4">0.5</text>
<text x="410.8" y="273.0">0.0</text>
<text x="410.8" y="422.6">0.5</text>
<text text-anchor="start" transform="translate(283.3,422.6) scale(1.16,1)">-</text>
<text x="410.8" y="572.1">1.0</text>
<text text-anchor="start" transform="translate(283.3,572.1) scale(1.16,1)">-</text>
<text x="410.8" y="721.7">1.5</text>
<text text-anchor="start" transform="translate(283.3,721.7) scale(1.16,1)">-</text>
<text x="410.8" y="871.3">2.0</text>
<text text-anchor="start" transform="translate(283.3,871.3) scale(1.16,1)">-</text>
<text x="410.8" y="1020.9">2.5</text>
<text text-anchor="start" transform="translate(283.3,1020.9) scale(1.16,1)">-</text>
<text x="410.8" y="1170.4">3.0</text>
<text text-anchor="start" transform="translate(283.3,1170.4) scale(1.16,1)">-</text>
<text x="410.8" y="1320.0">3.5</text>
<text text-anchor="start" transform="translate(283.3,1320.0) scale(1.16,1)">-</text>
<text x="410.8" y="1469.6">4.0</text>
<text text-anchor="start" transform="translate(283.3,1469.6) scale(1.16,1)">-</text>
</g>
<g class="t" font-size="72" text-anchor="middle">
<text x="482.1" y="1547.6">0.2</text>
<text x="713.4" y="1547.6">0.3</text>
<text x="944.7" y="1547.6">0.4</text>
<text x="1176.0" y="1547.6">0.5</text>
<text x="1407.3" y="1547.6">0.6</text>
<text x="1638.6" y="1547.6">0.7</text>
<text x="1869.9" y="1547.6">0.8</text>
</g>
<text class="t" font-size="73" x="886.9 935.6 957.7 994.5 1031.0 1051.3 1099.8 1141.5 1161.3 1209.8 1251.4 1304.6 1320.8 1340.5 1365.5 1418.6" y="1658.5">E vs Ag/AgCl (V)</text>
<text class="s" font-size="85" x="4.8 37.9 58.1 85.4 153.1 214.5 229.8 267.3" y="0" transform="translate(130,950.0) rotate(-90)">J (mA cm</text>
<text class="s" font-size="55" x="337.7 354.8" y="0" transform="translate(62.2,950.0) rotate(-90)">-2</text>
<text class="s" font-size="85" x="380.6" y="0" transform="translate(130,950.0) rotate(-90)">)</text>
<g stroke="#222" stroke-width="2.4" fill="none">
<path d="M1258.8,866.5 V1338.5 H1816.3"/>
<path d="M1249.3,1326.0 H1258.8"/>
<path d="M1249.3,1240.3 H1258.8"/>
<path d="M1249.3,1154.6 H1258.8"/>
<path d="M1249.3,1068.9 H1258.8"/>
<path d="M1249.3,983.2 H1258.8"/>
<path d="M1249.3,897.5 H1258.8"/>
<path d="M1253.8,1283.1 H1258.8"/>
<path d="M1253.8,1197.4 H1258.8"/>
<path d="M1253.8,1111.7 H1258.8"/>
<path d="M1253.8,1026.0 H1258.8"/>
<path d="M1253.8,940.3 H1258.8"/>
<path d="M1264.9,1338.5 V1348.5"/>
<path d="M1387.5,1338.5 V1348.5"/>
<path d="M1510.1,1338.5 V1348.5"/>
<path d="M1632.7,1338.5 V1348.5"/>
<path d="M1755.3,1338.5 V1348.5"/>
<path d="M1326.2,1338.5 V1344.0"/>
<path d="M1448.8,1338.5 V1344.0"/>
<path d="M1571.4,1338.5 V1344.0"/>
<path d="M1694.0,1338.5 V1344.0"/>
<path d="M1816.6,1338.5 V1344.0"/>
</g>
<g class="t" font-size="41.5" text-anchor="end">
<text transform="translate(1242.3,1337.6) scale(0.900,1)">0.0</text>
<text transform="translate(1242.3,1251.9) scale(0.900,1)">0.7</text>
<text transform="translate(1242.3,1166.2) scale(0.900,1)">1.4</text>
<text transform="translate(1242.3,1080.5) scale(0.900,1)">2.1</text>
<text transform="translate(1242.3,994.8) scale(0.900,1)">2.8</text>
<text transform="translate(1242.3,909.1) scale(0.900,1)">3.5</text>
</g>
<g class="t" font-size="41.5" text-anchor="middle">
<text transform="translate(1264.4,1384.3) scale(0.900,1)">0.0</text>
<text transform="translate(1387.0,1384.3) scale(0.900,1)">0.2</text>
<text transform="translate(1509.6,1384.3) scale(0.900,1)">0.4</text>
<text transform="translate(1632.2,1384.3) scale(0.900,1)">0.6</text>
<text transform="translate(1754.8,1384.3) scale(0.900,1)">0.8</text>
</g>
<text class="t" font-size="42" transform="translate(0,1429.8) scale(0.930,1)" x="1572.38" y="0">C</text>
<text class="t" font-size="24" transform="translate(0,1442.6) scale(0.930,1)" x="1601.98 1621.59" y="0">O2</text>
<text class="t" font-size="42" transform="translate(0,1429.8) scale(0.930,1)" x="1646.97 1659.68 1694.51 1731.37" y="0">(mM)</text>
<text class="t" font-size="42" transform="translate(1177.2,1210.0) rotate(-90) scale(0.930,1)" x="6.44 27.44 39.87 54.20 90.89 118.90 130.47 151.51" y="0">J (mA cm</text>
<text class="t" font-size="26" transform="translate(1158.4,1210.0) rotate(-90)" x="173.84 181.59" y="0">-2</text>
<text class="t" font-size="42" transform="translate(1177.2,1210.0) rotate(-90) scale(0.930,1)" x="213.73" y="0">)</text>
<g stroke="#7a7a7a" stroke-width="1.5" fill="none">
<path d="M1295.6,1303.4 V1327.8 M1291.6,1303.4 h8 M1291.6,1327.8 h8"/>
<path d="M1326.2,1277.3 V1301.8 M1322.2,1277.3 h8 M1322.2,1301.8 h8"/>
<path d="M1418.2,1155.2 V1193.2 M1414.2,1155.2 h8 M1414.2,1193.2 h8"/>
<path d="M1479.5,1105.6 V1149.7 M1475.5,1105.6 h8 M1475.5,1149.7 h8"/>
<path d="M1540.8,1026.0 V1089.7 M1536.8,1026.0 h8 M1536.8,1089.7 h8"/>
<path d="M1632.7,948.9 V1024.8 M1628.7,948.9 h8 M1628.7,1024.8 h8"/>
<path d="M1694.0,895.0 V978.3 M1690.0,895.0 h8 M1690.0,978.3 h8"/>
<path stroke="#b4b4b4" stroke-width="2.2" d="M1755.3,873.0 V975.9 M1751.3,873.0 h8 M1751.3,975.9 h8"/>
</g>
<g fill="#000">
<rect x="1290.6" y="1310.6" width="10" height="10"/>
<rect x="1321.2" y="1284.5" width="10" height="10"/>
<rect x="1413.2" y="1169.2" width="10" height="10"/>
<rect x="1474.5" y="1122.7" width="10" height="10"/>
<rect x="1535.8" y="1052.9" width="10" height="10"/>
<rect x="1627.7" y="981.9" width="10" height="10"/>
<rect x="1689.0" y="931.7" width="10" height="10"/>
<rect x="1750.3" y="919.4" width="10" height="10"/>
</g>
</svg></div></body></html>
